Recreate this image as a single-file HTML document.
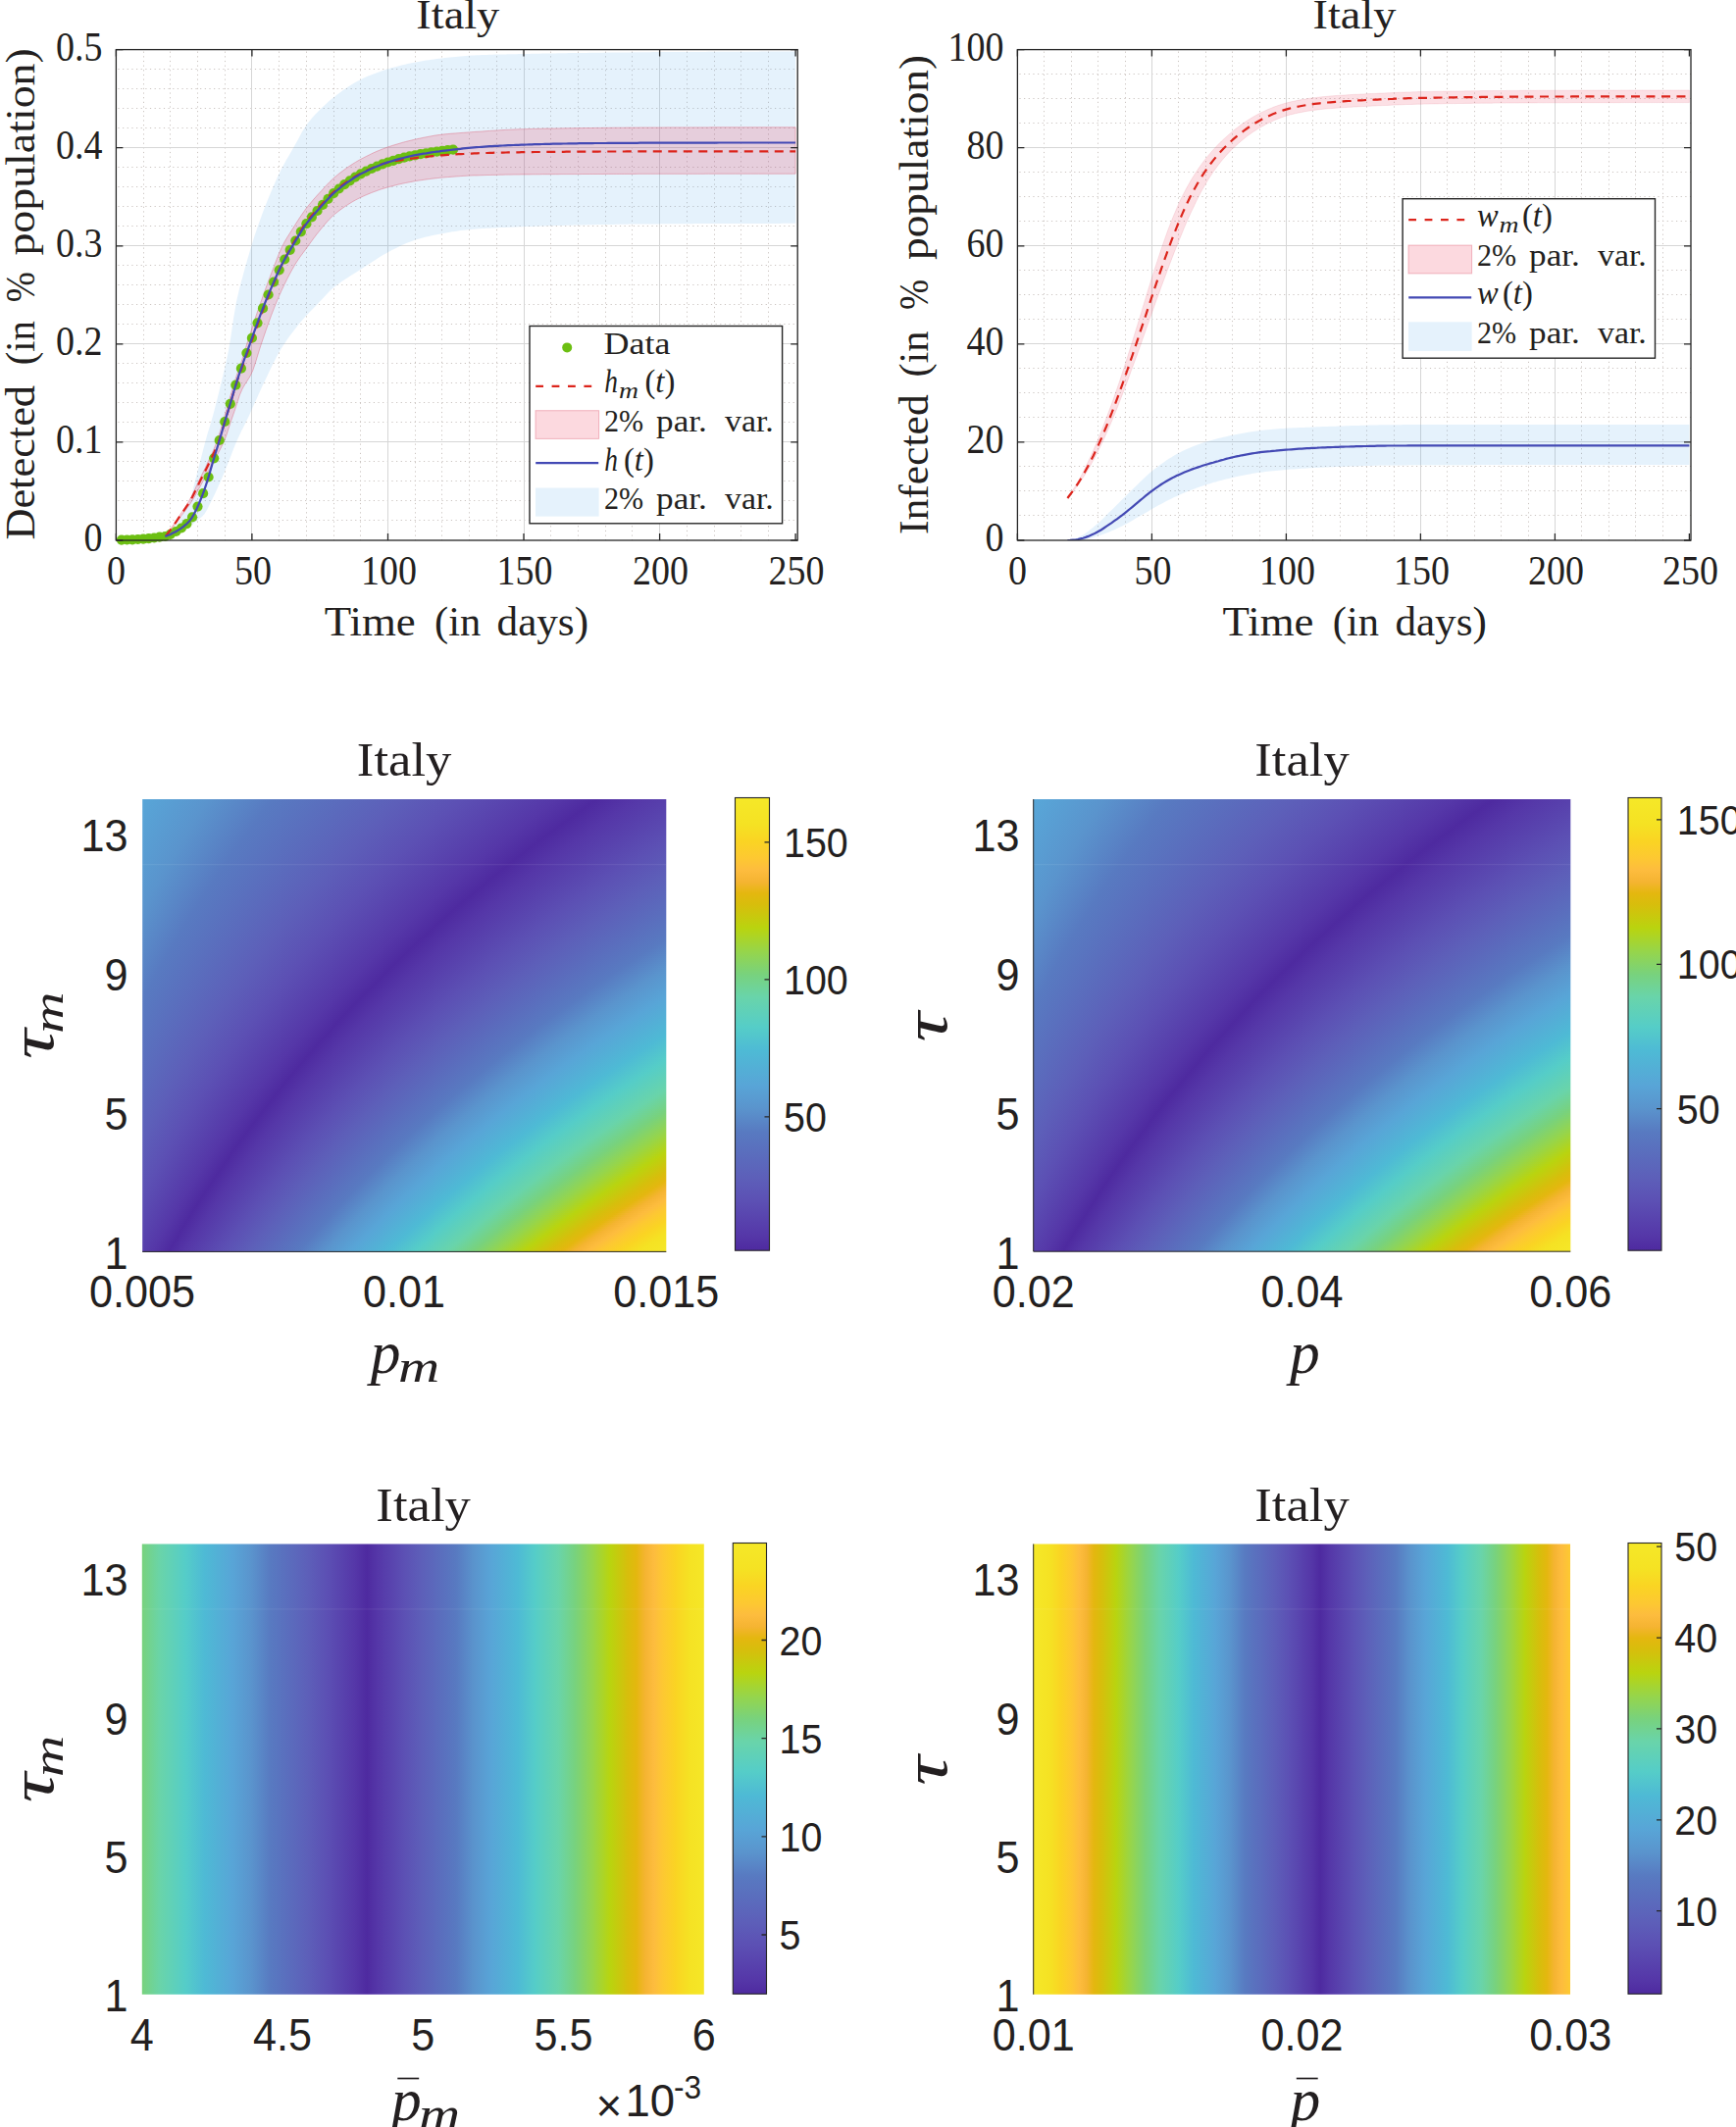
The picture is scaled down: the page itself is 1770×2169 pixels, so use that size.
<!DOCTYPE html>
<html><head><meta charset="utf-8"><title>Italy</title>
<style>
html,body{margin:0;padding:0;background:#fff}
svg{display:block}
.s{font-family:"Liberation Serif", "DejaVu Serif", serif;fill:#231f20}
.a{font-family:"Liberation Sans", "DejaVu Sans", sans-serif;fill:#231f20}
.mn{fill:none;stroke:#cbc4c0;stroke-width:1;stroke-dasharray:1.2 3.45}
.mj{fill:none;stroke:#d6d6d6;stroke-width:1}
.tk{fill:none;stroke:#262626;stroke-width:1.3}
.bx{fill:none;stroke:#262626;stroke-width:1.3}
.bb{fill:#4fa8ea;fill-opacity:.15;stroke:none}
.pb{fill:#ec2f4f;fill-opacity:.18;stroke:#d9465f;stroke-opacity:.35;stroke-width:1}
.bl{fill:none;stroke:#4349b4;stroke-width:2.2}
.rd{fill:none;stroke:#dc251c;stroke-width:2.2;stroke-dasharray:9 6.5}
.gd{fill:#6cbf12}
.lg{fill:#fff;stroke:#262626;stroke-width:1.4}
.cb{fill:none;stroke:#262626;stroke-width:1.1}
</style></head><body>
<svg width="1770" height="2169" viewBox="0 0 1770 2169">
<defs>
<linearGradient id="cm" gradientUnits="userSpaceOnUse" spreadMethod="reflect"><stop offset="0" stop-color="#4e2aa0"/><stop offset="0.032" stop-color="#5537a8"/><stop offset="0.109" stop-color="#5c50b4"/><stop offset="0.16" stop-color="#5d5fb9"/><stop offset="0.262" stop-color="#587ac1"/><stop offset="0.314" stop-color="#5a94cd"/><stop offset="0.365" stop-color="#58a5d7"/><stop offset="0.441" stop-color="#4ebad5"/><stop offset="0.493" stop-color="#55cdc8"/><stop offset="0.56" stop-color="#69d4aa"/><stop offset="0.61" stop-color="#78d27d"/><stop offset="0.66" stop-color="#96d54b"/><stop offset="0.712" stop-color="#b9d40f"/><stop offset="0.763" stop-color="#d7be0c"/><stop offset="0.789" stop-color="#e4b70f"/><stop offset="0.8145" stop-color="#f5b432"/><stop offset="0.84" stop-color="#fdbc3e"/><stop offset="0.866" stop-color="#fdc832"/><stop offset="0.904" stop-color="#fad423"/><stop offset="0.942" stop-color="#f5e223"/><stop offset="1" stop-color="#f5e828"/></linearGradient>
<linearGradient id="g2" href="#cm" x1="607.4" x2="1866.7"/>
<linearGradient id="g3" href="#cm" x1="604.6" x2="1858.9"/>
<linearGradient id="g4" href="#cm" x1="601.7" x2="1851.1"/>
<linearGradient id="g5" href="#cm" x1="598.8" x2="1843.3"/>
<linearGradient id="g6" href="#cm" x1="596.0" x2="1835.5"/>
<linearGradient id="g7" href="#cm" x1="593.2" x2="1827.8"/>
<linearGradient id="g8" href="#cm" x1="590.4" x2="1820.1"/>
<linearGradient id="g9" href="#cm" x1="587.6" x2="1812.5"/>
<linearGradient id="g10" href="#cm" x1="584.8" x2="1804.8"/>
<linearGradient id="g11" href="#cm" x1="582.0" x2="1797.3"/>
<linearGradient id="g12" href="#cm" x1="579.2" x2="1789.7"/>
<linearGradient id="g13" href="#cm" x1="576.4" x2="1782.1"/>
<linearGradient id="g14" href="#cm" x1="573.7" x2="1774.6"/>
<linearGradient id="g15" href="#cm" x1="570.9" x2="1767.2"/>
<linearGradient id="g16" href="#cm" x1="568.2" x2="1759.7"/>
<linearGradient id="g17" href="#cm" x1="565.5" x2="1752.3"/>
<linearGradient id="g18" href="#cm" x1="562.8" x2="1744.9"/>
<linearGradient id="g19" href="#cm" x1="560.1" x2="1737.6"/>
<linearGradient id="g20" href="#cm" x1="557.4" x2="1730.2"/>
<linearGradient id="g21" href="#cm" x1="554.7" x2="1722.9"/>
<linearGradient id="g22" href="#cm" x1="552.0" x2="1715.6"/>
<linearGradient id="g23" href="#cm" x1="549.4" x2="1708.4"/>
<linearGradient id="g24" href="#cm" x1="546.7" x2="1701.2"/>
<linearGradient id="g25" href="#cm" x1="544.1" x2="1694.0"/>
<linearGradient id="g26" href="#cm" x1="541.5" x2="1686.8"/>
<linearGradient id="g27" href="#cm" x1="538.9" x2="1679.7"/>
<linearGradient id="g28" href="#cm" x1="536.3" x2="1672.6"/>
<linearGradient id="g29" href="#cm" x1="533.7" x2="1665.5"/>
<linearGradient id="g30" href="#cm" x1="531.1" x2="1658.5"/>
<linearGradient id="g31" href="#cm" x1="528.5" x2="1651.5"/>
<linearGradient id="g32" href="#cm" x1="525.9" x2="1644.5"/>
<linearGradient id="g33" href="#cm" x1="523.4" x2="1637.5"/>
<linearGradient id="g34" href="#cm" x1="520.8" x2="1630.6"/>
<linearGradient id="g35" href="#cm" x1="518.3" x2="1623.7"/>
<linearGradient id="g36" href="#cm" x1="515.8" x2="1616.8"/>
<linearGradient id="g37" href="#cm" x1="513.3" x2="1609.9"/>
<linearGradient id="g38" href="#cm" x1="510.8" x2="1603.1"/>
<linearGradient id="g39" href="#cm" x1="508.3" x2="1596.3"/>
<linearGradient id="g40" href="#cm" x1="505.8" x2="1589.5"/>
<linearGradient id="g41" href="#cm" x1="503.3" x2="1582.8"/>
<linearGradient id="g42" href="#cm" x1="500.9" x2="1576.1"/>
<linearGradient id="g43" href="#cm" x1="498.4" x2="1569.4"/>
<linearGradient id="g44" href="#cm" x1="495.9" x2="1562.7"/>
<linearGradient id="g45" href="#cm" x1="493.5" x2="1556.1"/>
<linearGradient id="g46" href="#cm" x1="491.1" x2="1549.4"/>
<linearGradient id="g47" href="#cm" x1="488.7" x2="1542.9"/>
<linearGradient id="g48" href="#cm" x1="486.3" x2="1536.3"/>
<linearGradient id="g49" href="#cm" x1="483.9" x2="1529.8"/>
<linearGradient id="g50" href="#cm" x1="481.5" x2="1523.2"/>
<linearGradient id="g51" href="#cm" x1="479.1" x2="1516.8"/>
<linearGradient id="g52" href="#cm" x1="476.7" x2="1510.3"/>
<linearGradient id="g53" href="#cm" x1="474.4" x2="1503.9"/>
<linearGradient id="g54" href="#cm" x1="472.0" x2="1497.5"/>
<linearGradient id="g55" href="#cm" x1="469.7" x2="1491.1"/>
<linearGradient id="g56" href="#cm" x1="467.3" x2="1484.7"/>
<linearGradient id="g57" href="#cm" x1="465.0" x2="1478.4"/>
<linearGradient id="g58" href="#cm" x1="462.7" x2="1472.1"/>
<linearGradient id="g59" href="#cm" x1="460.4" x2="1465.8"/>
<linearGradient id="g60" href="#cm" x1="458.1" x2="1459.5"/>
<linearGradient id="g61" href="#cm" x1="455.8" x2="1453.3"/>
<linearGradient id="g62" href="#cm" x1="453.5" x2="1447.1"/>
<linearGradient id="g63" href="#cm" x1="451.3" x2="1440.9"/>
<linearGradient id="g64" href="#cm" x1="449.0" x2="1434.7"/>
<linearGradient id="g65" href="#cm" x1="446.8" x2="1428.6"/>
<linearGradient id="g66" href="#cm" x1="444.5" x2="1422.5"/>
<linearGradient id="g67" href="#cm" x1="442.3" x2="1416.4"/>
<linearGradient id="g68" href="#cm" x1="440.1" x2="1410.3"/>
<linearGradient id="g69" href="#cm" x1="437.9" x2="1404.3"/>
<linearGradient id="g70" href="#cm" x1="435.6" x2="1398.3"/>
<linearGradient id="g71" href="#cm" x1="433.5" x2="1392.3"/>
<linearGradient id="g72" href="#cm" x1="431.3" x2="1386.3"/>
<linearGradient id="g73" href="#cm" x1="429.1" x2="1380.4"/>
<linearGradient id="g74" href="#cm" x1="426.9" x2="1374.5"/>
<linearGradient id="g75" href="#cm" x1="424.7" x2="1368.6"/>
<linearGradient id="g76" href="#cm" x1="422.6" x2="1362.7"/>
<linearGradient id="g77" href="#cm" x1="420.4" x2="1356.8"/>
<linearGradient id="g78" href="#cm" x1="418.3" x2="1351.0"/>
<linearGradient id="g79" href="#cm" x1="416.2" x2="1345.2"/>
<linearGradient id="g80" href="#cm" x1="414.1" x2="1339.4"/>
<linearGradient id="g81" href="#cm" x1="411.9" x2="1333.6"/>
<linearGradient id="g82" href="#cm" x1="409.8" x2="1327.9"/>
<linearGradient id="g83" href="#cm" x1="407.7" x2="1322.2"/>
<linearGradient id="g84" href="#cm" x1="405.7" x2="1316.5"/>
<linearGradient id="g85" href="#cm" x1="403.6" x2="1310.8"/>
<linearGradient id="g86" href="#cm" x1="401.5" x2="1305.2"/>
<linearGradient id="g87" href="#cm" x1="399.4" x2="1299.6"/>
<linearGradient id="g88" href="#cm" x1="397.4" x2="1294.0"/>
<linearGradient id="g89" href="#cm" x1="395.3" x2="1288.4"/>
<linearGradient id="g90" href="#cm" x1="393.3" x2="1282.8"/>
<linearGradient id="g91" href="#cm" x1="391.3" x2="1277.3"/>
<linearGradient id="g92" href="#cm" x1="389.2" x2="1271.8"/>
<linearGradient id="g93" href="#cm" x1="387.2" x2="1266.3"/>
<linearGradient id="g94" href="#cm" x1="385.2" x2="1260.8"/>
<linearGradient id="g95" href="#cm" x1="383.2" x2="1255.3"/>
<linearGradient id="g96" href="#cm" x1="381.2" x2="1249.9"/>
<linearGradient id="g97" href="#cm" x1="379.3" x2="1244.5"/>
<linearGradient id="g98" href="#cm" x1="377.3" x2="1239.1"/>
<linearGradient id="g99" href="#cm" x1="375.3" x2="1233.7"/>
<linearGradient id="g100" href="#cm" x1="373.3" x2="1228.4"/>
<linearGradient id="g101" href="#cm" x1="371.4" x2="1223.1"/>
<linearGradient id="g102" href="#cm" x1="369.5" x2="1217.8"/>
<linearGradient id="g103" href="#cm" x1="367.5" x2="1212.5"/>
<linearGradient id="g104" href="#cm" x1="365.6" x2="1207.2"/>
<linearGradient id="g105" href="#cm" x1="363.7" x2="1202.0"/>
<linearGradient id="g106" href="#cm" x1="361.7" x2="1196.8"/>
<linearGradient id="g107" href="#cm" x1="359.8" x2="1191.6"/>
<linearGradient id="g108" href="#cm" x1="357.9" x2="1186.4"/>
<linearGradient id="g109" href="#cm" x1="356.1" x2="1181.2"/>
<linearGradient id="g110" href="#cm" x1="354.2" x2="1176.1"/>
<linearGradient id="g111" href="#cm" x1="352.3" x2="1171.0"/>
<linearGradient id="g112" href="#cm" x1="350.4" x2="1165.9"/>
<linearGradient id="g113" href="#cm" x1="348.6" x2="1160.8"/>
<linearGradient id="g114" href="#cm" x1="346.7" x2="1155.8"/>
<linearGradient id="g115" href="#cm" x1="344.9" x2="1150.7"/>
<linearGradient id="g116" href="#cm" x1="343.0" x2="1145.7"/>
<linearGradient id="g117" href="#cm" x1="341.2" x2="1140.7"/>
<linearGradient id="g118" href="#cm" x1="339.4" x2="1135.7"/>
<linearGradient id="g119" href="#cm" x1="337.5" x2="1130.8"/>
<linearGradient id="g120" href="#cm" x1="335.7" x2="1125.8"/>
<linearGradient id="g121" href="#cm" x1="333.9" x2="1120.9"/>
<linearGradient id="g122" href="#cm" x1="332.1" x2="1116.0"/>
<linearGradient id="g123" href="#cm" x1="330.3" x2="1111.1"/>
<linearGradient id="g124" href="#cm" x1="328.6" x2="1106.3"/>
<linearGradient id="g125" href="#cm" x1="326.8" x2="1101.4"/>
<linearGradient id="g126" href="#cm" x1="325.0" x2="1096.6"/>
<linearGradient id="g127" href="#cm" x1="323.3" x2="1091.8"/>
<linearGradient id="g128" href="#cm" x1="321.5" x2="1087.0"/>
<linearGradient id="g129" href="#cm" x1="319.7" x2="1082.3"/>
<linearGradient id="g130" href="#cm" x1="318.0" x2="1077.5"/>
<linearGradient id="g131" href="#cm" x1="316.3" x2="1072.8"/>
<linearGradient id="g132" href="#cm" x1="314.5" x2="1068.1"/>
<linearGradient id="g133" href="#cm" x1="312.8" x2="1063.4"/>
<linearGradient id="g134" href="#cm" x1="311.1" x2="1058.7"/>
<linearGradient id="g135" href="#cm" x1="309.4" x2="1054.1"/>
<linearGradient id="g136" href="#cm" x1="307.7" x2="1049.4"/>
<linearGradient id="g137" href="#cm" x1="306.0" x2="1044.8"/>
<linearGradient id="g138" href="#cm" x1="304.3" x2="1040.2"/>
<linearGradient id="g139" href="#cm" x1="302.6" x2="1035.6"/>
<linearGradient id="g140" href="#cm" x1="301.0" x2="1031.1"/>
<linearGradient id="g141" href="#cm" x1="299.3" x2="1026.5"/>
<linearGradient id="g142" href="#cm" x1="297.6" x2="1022.0"/>
<linearGradient id="g143" href="#cm" x1="296.0" x2="1017.5"/>
<linearGradient id="g144" href="#cm" x1="294.3" x2="1013.0"/>
<linearGradient id="g145" href="#cm" x1="292.7" x2="1008.5"/>
<linearGradient id="g146" href="#cm" x1="291.1" x2="1004.1"/>
<linearGradient id="g147" href="#cm" x1="289.4" x2="999.6"/>
<linearGradient id="g148" href="#cm" x1="287.8" x2="995.2"/>
<linearGradient id="g149" href="#cm" x1="286.2" x2="990.8"/>
<linearGradient id="g150" href="#cm" x1="284.6" x2="986.4"/>
<linearGradient id="g151" href="#cm" x1="283.0" x2="982.0"/>
<linearGradient id="g152" href="#cm" x1="281.4" x2="977.7"/>
<linearGradient id="g153" href="#cm" x1="279.8" x2="973.3"/>
<linearGradient id="g154" href="#cm" x1="278.2" x2="969.0"/>
<linearGradient id="g155" href="#cm" x1="276.6" x2="964.7"/>
<linearGradient id="g156" href="#cm" x1="275.1" x2="960.4"/>
<linearGradient id="g157" href="#cm" x1="273.5" x2="956.2"/>
<linearGradient id="g158" href="#cm" x1="272.0" x2="951.9"/>
<linearGradient id="g159" href="#cm" x1="270.4" x2="947.7"/>
<linearGradient id="g160" href="#cm" x1="268.9" x2="943.5"/>
<linearGradient id="g161" href="#cm" x1="267.3" x2="939.3"/>
<linearGradient id="g162" href="#cm" x1="265.8" x2="935.1"/>
<linearGradient id="g163" href="#cm" x1="264.3" x2="930.9"/>
<linearGradient id="g164" href="#cm" x1="262.7" x2="926.8"/>
<linearGradient id="g165" href="#cm" x1="261.2" x2="922.6"/>
<linearGradient id="g166" href="#cm" x1="259.7" x2="918.5"/>
<linearGradient id="g167" href="#cm" x1="258.2" x2="914.4"/>
<linearGradient id="g168" href="#cm" x1="256.7" x2="910.3"/>
<linearGradient id="g169" href="#cm" x1="255.2" x2="906.3"/>
<linearGradient id="g170" href="#cm" x1="253.7" x2="902.2"/>
<linearGradient id="g171" href="#cm" x1="252.2" x2="898.2"/>
<linearGradient id="g172" href="#cm" x1="250.8" x2="894.2"/>
<linearGradient id="g173" href="#cm" x1="249.3" x2="890.2"/>
<linearGradient id="g174" href="#cm" x1="247.8" x2="886.2"/>
<linearGradient id="g175" href="#cm" x1="246.4" x2="882.2"/>
<linearGradient id="g176" href="#cm" x1="244.9" x2="878.2"/>
<linearGradient id="g177" href="#cm" x1="243.5" x2="874.3"/>
<linearGradient id="g178" href="#cm" x1="242.0" x2="870.4"/>
<linearGradient id="g179" href="#cm" x1="240.6" x2="866.5"/>
<linearGradient id="g180" href="#cm" x1="239.2" x2="862.6"/>
<linearGradient id="g181" href="#cm" x1="237.8" x2="858.7"/>
<linearGradient id="g182" href="#cm" x1="236.3" x2="854.8"/>
<linearGradient id="g183" href="#cm" x1="234.9" x2="851.0"/>
<linearGradient id="g184" href="#cm" x1="233.5" x2="847.1"/>
<linearGradient id="g185" href="#cm" x1="232.1" x2="843.3"/>
<linearGradient id="g186" href="#cm" x1="230.7" x2="839.5"/>
<linearGradient id="g187" href="#cm" x1="229.3" x2="835.7"/>
<linearGradient id="g188" href="#cm" x1="227.9" x2="831.9"/>
<linearGradient id="g189" href="#cm" x1="226.6" x2="828.2"/>
<linearGradient id="g190" href="#cm" x1="225.2" x2="824.4"/>
<linearGradient id="g191" href="#cm" x1="223.8" x2="820.7"/>
<linearGradient id="g192" href="#cm" x1="222.5" x2="817.0"/>
<linearGradient id="g193" href="#cm" x1="221.1" x2="813.3"/>
<linearGradient id="g194" href="#cm" x1="219.8" x2="809.6"/>
<linearGradient id="g195" href="#cm" x1="218.4" x2="805.9"/>
<linearGradient id="g196" href="#cm" x1="217.1" x2="802.3"/>
<linearGradient id="g197" href="#cm" x1="215.7" x2="798.6"/>
<linearGradient id="g198" href="#cm" x1="214.4" x2="795.0"/>
<linearGradient id="g199" href="#cm" x1="213.1" x2="791.4"/>
<linearGradient id="g200" href="#cm" x1="211.7" x2="787.8"/>
<linearGradient id="g201" href="#cm" x1="210.4" x2="784.2"/>
<linearGradient id="g202" href="#cm" x1="209.1" x2="780.6"/>
<linearGradient id="g203" href="#cm" x1="207.8" x2="777.1"/>
<linearGradient id="g204" href="#cm" x1="206.5" x2="773.5"/>
<linearGradient id="g205" href="#cm" x1="205.2" x2="770.0"/>
<linearGradient id="g206" href="#cm" x1="203.9" x2="766.5"/>
<linearGradient id="g207" href="#cm" x1="202.7" x2="763.0"/>
<linearGradient id="g208" href="#cm" x1="201.4" x2="759.5"/>
<linearGradient id="g209" href="#cm" x1="200.1" x2="756.0"/>
<linearGradient id="g210" href="#cm" x1="198.8" x2="752.5"/>
<linearGradient id="g211" href="#cm" x1="197.6" x2="749.1"/>
<linearGradient id="g212" href="#cm" x1="196.3" x2="745.7"/>
<linearGradient id="g213" href="#cm" x1="195.1" x2="742.2"/>
<linearGradient id="g214" href="#cm" x1="193.8" x2="738.8"/>
<linearGradient id="g215" href="#cm" x1="192.6" x2="735.4"/>
<linearGradient id="g216" href="#cm" x1="191.3" x2="732.1"/>
<linearGradient id="g217" href="#cm" x1="190.1" x2="728.7"/>
<linearGradient id="g218" href="#cm" x1="188.9" x2="725.3"/>
<linearGradient id="g219" href="#cm" x1="187.6" x2="722.0"/>
<linearGradient id="g220" href="#cm" x1="186.4" x2="718.7"/>
<linearGradient id="g221" href="#cm" x1="185.2" x2="715.4"/>
<linearGradient id="g222" href="#cm" x1="184.0" x2="712.1"/>
<linearGradient id="g223" href="#cm" x1="182.8" x2="708.8"/>
<linearGradient id="g224" href="#cm" x1="181.6" x2="705.5"/>
<linearGradient id="g225" href="#cm" x1="180.4" x2="702.2"/>
<linearGradient id="g226" href="#cm" x1="179.2" x2="699.0"/>
<linearGradient id="g227" href="#cm" x1="178.0" x2="695.8"/>
<linearGradient id="g228" href="#cm" x1="176.8" x2="692.5"/>
<linearGradient id="g229" href="#cm" x1="175.6" x2="689.3"/>
<linearGradient id="g230" href="#cm" x1="174.5" x2="686.1"/>
<linearGradient id="g231" href="#cm" x1="173.3" x2="682.9"/>
<linearGradient id="g232" href="#cm" x1="172.1" x2="679.8"/>
<linearGradient id="g233" href="#cm" x1="0.0" x2="0.0" y1="1275.2" y2="813.5"/>
<linearGradient id="g235" href="#cm" x1="1521.8" x2="2785.1"/>
<linearGradient id="g236" href="#cm" x1="1518.9" x2="2777.3"/>
<linearGradient id="g237" href="#cm" x1="1516.1" x2="2769.6"/>
<linearGradient id="g238" href="#cm" x1="1513.2" x2="2761.9"/>
<linearGradient id="g239" href="#cm" x1="1510.4" x2="2754.2"/>
<linearGradient id="g240" href="#cm" x1="1507.6" x2="2746.5"/>
<linearGradient id="g241" href="#cm" x1="1504.7" x2="2738.9"/>
<linearGradient id="g242" href="#cm" x1="1501.9" x2="2731.3"/>
<linearGradient id="g243" href="#cm" x1="1499.1" x2="2723.8"/>
<linearGradient id="g244" href="#cm" x1="1496.4" x2="2716.3"/>
<linearGradient id="g245" href="#cm" x1="1493.6" x2="2708.8"/>
<linearGradient id="g246" href="#cm" x1="1490.8" x2="2701.3"/>
<linearGradient id="g247" href="#cm" x1="1488.1" x2="2693.9"/>
<linearGradient id="g248" href="#cm" x1="1485.3" x2="2686.5"/>
<linearGradient id="g249" href="#cm" x1="1482.6" x2="2679.1"/>
<linearGradient id="g250" href="#cm" x1="1479.9" x2="2671.7"/>
<linearGradient id="g251" href="#cm" x1="1477.2" x2="2664.4"/>
<linearGradient id="g252" href="#cm" x1="1474.5" x2="2657.1"/>
<linearGradient id="g253" href="#cm" x1="1471.8" x2="2649.8"/>
<linearGradient id="g254" href="#cm" x1="1469.1" x2="2642.6"/>
<linearGradient id="g255" href="#cm" x1="1466.4" x2="2635.4"/>
<linearGradient id="g256" href="#cm" x1="1463.8" x2="2628.2"/>
<linearGradient id="g257" href="#cm" x1="1461.1" x2="2621.1"/>
<linearGradient id="g258" href="#cm" x1="1458.5" x2="2613.9"/>
<linearGradient id="g259" href="#cm" x1="1455.9" x2="2606.8"/>
<linearGradient id="g260" href="#cm" x1="1453.2" x2="2599.8"/>
<linearGradient id="g261" href="#cm" x1="1450.6" x2="2592.7"/>
<linearGradient id="g262" href="#cm" x1="1448.0" x2="2585.7"/>
<linearGradient id="g263" href="#cm" x1="1445.5" x2="2578.7"/>
<linearGradient id="g264" href="#cm" x1="1442.9" x2="2571.7"/>
<linearGradient id="g265" href="#cm" x1="1440.3" x2="2564.8"/>
<linearGradient id="g266" href="#cm" x1="1437.8" x2="2557.9"/>
<linearGradient id="g267" href="#cm" x1="1435.2" x2="2551.0"/>
<linearGradient id="g268" href="#cm" x1="1432.7" x2="2544.2"/>
<linearGradient id="g269" href="#cm" x1="1430.1" x2="2537.3"/>
<linearGradient id="g270" href="#cm" x1="1427.6" x2="2530.5"/>
<linearGradient id="g271" href="#cm" x1="1425.1" x2="2523.7"/>
<linearGradient id="g272" href="#cm" x1="1422.6" x2="2517.0"/>
<linearGradient id="g273" href="#cm" x1="1420.1" x2="2510.3"/>
<linearGradient id="g274" href="#cm" x1="1417.7" x2="2503.6"/>
<linearGradient id="g275" href="#cm" x1="1415.2" x2="2496.9"/>
<linearGradient id="g276" href="#cm" x1="1412.7" x2="2490.3"/>
<linearGradient id="g277" href="#cm" x1="1410.3" x2="2483.6"/>
<linearGradient id="g278" href="#cm" x1="1407.8" x2="2477.0"/>
<linearGradient id="g279" href="#cm" x1="1405.4" x2="2470.5"/>
<linearGradient id="g280" href="#cm" x1="1403.0" x2="2463.9"/>
<linearGradient id="g281" href="#cm" x1="1400.6" x2="2457.4"/>
<linearGradient id="g282" href="#cm" x1="1398.2" x2="2450.9"/>
<linearGradient id="g283" href="#cm" x1="1395.8" x2="2444.4"/>
<linearGradient id="g284" href="#cm" x1="1393.4" x2="2438.0"/>
<linearGradient id="g285" href="#cm" x1="1391.0" x2="2431.6"/>
<linearGradient id="g286" href="#cm" x1="1388.7" x2="2425.2"/>
<linearGradient id="g287" href="#cm" x1="1386.3" x2="2418.8"/>
<linearGradient id="g288" href="#cm" x1="1383.9" x2="2412.5"/>
<linearGradient id="g289" href="#cm" x1="1381.6" x2="2406.2"/>
<linearGradient id="g290" href="#cm" x1="1379.3" x2="2399.9"/>
<linearGradient id="g291" href="#cm" x1="1377.0" x2="2393.6"/>
<linearGradient id="g292" href="#cm" x1="1374.6" x2="2387.3"/>
<linearGradient id="g293" href="#cm" x1="1372.3" x2="2381.1"/>
<linearGradient id="g294" href="#cm" x1="1370.1" x2="2374.9"/>
<linearGradient id="g295" href="#cm" x1="1367.8" x2="2368.7"/>
<linearGradient id="g296" href="#cm" x1="1365.5" x2="2362.6"/>
<linearGradient id="g297" href="#cm" x1="1363.2" x2="2356.5"/>
<linearGradient id="g298" href="#cm" x1="1361.0" x2="2350.4"/>
<linearGradient id="g299" href="#cm" x1="1358.7" x2="2344.3"/>
<linearGradient id="g300" href="#cm" x1="1356.5" x2="2338.2"/>
<linearGradient id="g301" href="#cm" x1="1354.2" x2="2332.2"/>
<linearGradient id="g302" href="#cm" x1="1352.0" x2="2326.2"/>
<linearGradient id="g303" href="#cm" x1="1349.8" x2="2320.2"/>
<linearGradient id="g304" href="#cm" x1="1347.6" x2="2314.2"/>
<linearGradient id="g305" href="#cm" x1="1345.4" x2="2308.3"/>
<linearGradient id="g306" href="#cm" x1="1343.2" x2="2302.4"/>
<linearGradient id="g307" href="#cm" x1="1341.0" x2="2296.5"/>
<linearGradient id="g308" href="#cm" x1="1338.9" x2="2290.6"/>
<linearGradient id="g309" href="#cm" x1="1336.7" x2="2284.8"/>
<linearGradient id="g310" href="#cm" x1="1334.5" x2="2278.9"/>
<linearGradient id="g311" href="#cm" x1="1332.4" x2="2273.1"/>
<linearGradient id="g312" href="#cm" x1="1330.3" x2="2267.4"/>
<linearGradient id="g313" href="#cm" x1="1328.1" x2="2261.6"/>
<linearGradient id="g314" href="#cm" x1="1326.0" x2="2255.9"/>
<linearGradient id="g315" href="#cm" x1="1323.9" x2="2250.2"/>
<linearGradient id="g316" href="#cm" x1="1321.8" x2="2244.5"/>
<linearGradient id="g317" href="#cm" x1="1319.7" x2="2238.8"/>
<linearGradient id="g318" href="#cm" x1="1317.6" x2="2233.1"/>
<linearGradient id="g319" href="#cm" x1="1315.5" x2="2227.5"/>
<linearGradient id="g320" href="#cm" x1="1313.4" x2="2221.9"/>
<linearGradient id="g321" href="#cm" x1="1311.4" x2="2216.3"/>
<linearGradient id="g322" href="#cm" x1="1309.3" x2="2210.8"/>
<linearGradient id="g323" href="#cm" x1="1307.3" x2="2205.2"/>
<linearGradient id="g324" href="#cm" x1="1305.2" x2="2199.7"/>
<linearGradient id="g325" href="#cm" x1="1303.2" x2="2194.2"/>
<linearGradient id="g326" href="#cm" x1="1301.2" x2="2188.7"/>
<linearGradient id="g327" href="#cm" x1="1299.2" x2="2183.3"/>
<linearGradient id="g328" href="#cm" x1="1297.1" x2="2177.9"/>
<linearGradient id="g329" href="#cm" x1="1295.1" x2="2172.4"/>
<linearGradient id="g330" href="#cm" x1="1293.1" x2="2167.1"/>
<linearGradient id="g331" href="#cm" x1="1291.2" x2="2161.7"/>
<linearGradient id="g332" href="#cm" x1="1289.2" x2="2156.3"/>
<linearGradient id="g333" href="#cm" x1="1287.2" x2="2151.0"/>
<linearGradient id="g334" href="#cm" x1="1285.2" x2="2145.7"/>
<linearGradient id="g335" href="#cm" x1="1283.3" x2="2140.4"/>
<linearGradient id="g336" href="#cm" x1="1281.3" x2="2135.1"/>
<linearGradient id="g337" href="#cm" x1="1279.4" x2="2129.9"/>
<linearGradient id="g338" href="#cm" x1="1277.5" x2="2124.7"/>
<linearGradient id="g339" href="#cm" x1="1275.5" x2="2119.5"/>
<linearGradient id="g340" href="#cm" x1="1273.6" x2="2114.3"/>
<linearGradient id="g341" href="#cm" x1="1271.7" x2="2109.1"/>
<linearGradient id="g342" href="#cm" x1="1269.8" x2="2104.0"/>
<linearGradient id="g343" href="#cm" x1="1267.9" x2="2098.8"/>
<linearGradient id="g344" href="#cm" x1="1266.0" x2="2093.7"/>
<linearGradient id="g345" href="#cm" x1="1264.1" x2="2088.7"/>
<linearGradient id="g346" href="#cm" x1="1262.3" x2="2083.6"/>
<linearGradient id="g347" href="#cm" x1="1260.4" x2="2078.5"/>
<linearGradient id="g348" href="#cm" x1="1258.5" x2="2073.5"/>
<linearGradient id="g349" href="#cm" x1="1256.7" x2="2068.5"/>
<linearGradient id="g350" href="#cm" x1="1254.8" x2="2063.5"/>
<linearGradient id="g351" href="#cm" x1="1253.0" x2="2058.6"/>
<linearGradient id="g352" href="#cm" x1="1251.2" x2="2053.6"/>
<linearGradient id="g353" href="#cm" x1="1249.3" x2="2048.7"/>
<linearGradient id="g354" href="#cm" x1="1247.5" x2="2043.8"/>
<linearGradient id="g355" href="#cm" x1="1245.7" x2="2038.9"/>
<linearGradient id="g356" href="#cm" x1="1243.9" x2="2034.0"/>
<linearGradient id="g357" href="#cm" x1="1242.1" x2="2029.1"/>
<linearGradient id="g358" href="#cm" x1="1240.3" x2="2024.3"/>
<linearGradient id="g359" href="#cm" x1="1238.5" x2="2019.5"/>
<linearGradient id="g360" href="#cm" x1="1236.8" x2="2014.7"/>
<linearGradient id="g361" href="#cm" x1="1235.0" x2="2009.9"/>
<linearGradient id="g362" href="#cm" x1="1233.2" x2="2005.1"/>
<linearGradient id="g363" href="#cm" x1="1231.5" x2="2000.4"/>
<linearGradient id="g364" href="#cm" x1="1229.7" x2="1995.7"/>
<linearGradient id="g365" href="#cm" x1="1228.0" x2="1991.0"/>
<linearGradient id="g366" href="#cm" x1="1226.3" x2="1986.3"/>
<linearGradient id="g367" href="#cm" x1="1224.5" x2="1981.6"/>
<linearGradient id="g368" href="#cm" x1="1222.8" x2="1977.0"/>
<linearGradient id="g369" href="#cm" x1="1221.1" x2="1972.3"/>
<linearGradient id="g370" href="#cm" x1="1219.4" x2="1967.7"/>
<linearGradient id="g371" href="#cm" x1="1217.7" x2="1963.1"/>
<linearGradient id="g372" href="#cm" x1="1216.0" x2="1958.5"/>
<linearGradient id="g373" href="#cm" x1="1214.3" x2="1954.0"/>
<linearGradient id="g374" href="#cm" x1="1212.6" x2="1949.4"/>
<linearGradient id="g375" href="#cm" x1="1210.9" x2="1944.9"/>
<linearGradient id="g376" href="#cm" x1="1209.3" x2="1940.4"/>
<linearGradient id="g377" href="#cm" x1="1207.6" x2="1935.9"/>
<linearGradient id="g378" href="#cm" x1="1206.0" x2="1931.4"/>
<linearGradient id="g379" href="#cm" x1="1204.3" x2="1927.0"/>
<linearGradient id="g380" href="#cm" x1="1202.7" x2="1922.5"/>
<linearGradient id="g381" href="#cm" x1="1201.0" x2="1918.1"/>
<linearGradient id="g382" href="#cm" x1="1199.4" x2="1913.7"/>
<linearGradient id="g383" href="#cm" x1="1197.8" x2="1909.3"/>
<linearGradient id="g384" href="#cm" x1="1196.2" x2="1904.9"/>
<linearGradient id="g385" href="#cm" x1="1194.5" x2="1900.6"/>
<linearGradient id="g386" href="#cm" x1="1192.9" x2="1896.2"/>
<linearGradient id="g387" href="#cm" x1="1191.3" x2="1891.9"/>
<linearGradient id="g388" href="#cm" x1="1189.8" x2="1887.6"/>
<linearGradient id="g389" href="#cm" x1="1188.2" x2="1883.3"/>
<linearGradient id="g390" href="#cm" x1="1186.6" x2="1879.1"/>
<linearGradient id="g391" href="#cm" x1="1185.0" x2="1874.8"/>
<linearGradient id="g392" href="#cm" x1="1183.4" x2="1870.6"/>
<linearGradient id="g393" href="#cm" x1="1181.9" x2="1866.3"/>
<linearGradient id="g394" href="#cm" x1="1180.3" x2="1862.1"/>
<linearGradient id="g395" href="#cm" x1="1178.8" x2="1857.9"/>
<linearGradient id="g396" href="#cm" x1="1177.2" x2="1853.8"/>
<linearGradient id="g397" href="#cm" x1="1175.7" x2="1849.6"/>
<linearGradient id="g398" href="#cm" x1="1174.2" x2="1845.5"/>
<linearGradient id="g399" href="#cm" x1="1172.6" x2="1841.3"/>
<linearGradient id="g400" href="#cm" x1="1171.1" x2="1837.2"/>
<linearGradient id="g401" href="#cm" x1="1169.6" x2="1833.1"/>
<linearGradient id="g402" href="#cm" x1="1168.1" x2="1829.1"/>
<linearGradient id="g403" href="#cm" x1="1166.6" x2="1825.0"/>
<linearGradient id="g404" href="#cm" x1="1165.1" x2="1821.0"/>
<linearGradient id="g405" href="#cm" x1="1163.6" x2="1816.9"/>
<linearGradient id="g406" href="#cm" x1="1162.1" x2="1812.9"/>
<linearGradient id="g407" href="#cm" x1="1160.6" x2="1808.9"/>
<linearGradient id="g408" href="#cm" x1="1159.2" x2="1804.9"/>
<linearGradient id="g409" href="#cm" x1="1157.7" x2="1801.0"/>
<linearGradient id="g410" href="#cm" x1="1156.2" x2="1797.0"/>
<linearGradient id="g411" href="#cm" x1="1154.8" x2="1793.1"/>
<linearGradient id="g412" href="#cm" x1="1153.3" x2="1789.2"/>
<linearGradient id="g413" href="#cm" x1="1151.9" x2="1785.2"/>
<linearGradient id="g414" href="#cm" x1="1150.4" x2="1781.4"/>
<linearGradient id="g415" href="#cm" x1="1149.0" x2="1777.5"/>
<linearGradient id="g416" href="#cm" x1="1147.6" x2="1773.6"/>
<linearGradient id="g417" href="#cm" x1="1146.2" x2="1769.8"/>
<linearGradient id="g418" href="#cm" x1="1144.7" x2="1765.9"/>
<linearGradient id="g419" href="#cm" x1="1143.3" x2="1762.1"/>
<linearGradient id="g420" href="#cm" x1="1141.9" x2="1758.3"/>
<linearGradient id="g421" href="#cm" x1="1140.5" x2="1754.5"/>
<linearGradient id="g422" href="#cm" x1="1139.1" x2="1750.8"/>
<linearGradient id="g423" href="#cm" x1="1137.7" x2="1747.0"/>
<linearGradient id="g424" href="#cm" x1="1136.3" x2="1743.3"/>
<linearGradient id="g425" href="#cm" x1="1135.0" x2="1739.5"/>
<linearGradient id="g426" href="#cm" x1="1133.6" x2="1735.8"/>
<linearGradient id="g427" href="#cm" x1="1132.2" x2="1732.1"/>
<linearGradient id="g428" href="#cm" x1="1130.9" x2="1728.4"/>
<linearGradient id="g429" href="#cm" x1="1129.5" x2="1724.8"/>
<linearGradient id="g430" href="#cm" x1="1128.1" x2="1721.1"/>
<linearGradient id="g431" href="#cm" x1="1126.8" x2="1717.5"/>
<linearGradient id="g432" href="#cm" x1="1125.5" x2="1713.8"/>
<linearGradient id="g433" href="#cm" x1="1124.1" x2="1710.2"/>
<linearGradient id="g434" href="#cm" x1="1122.8" x2="1706.6"/>
<linearGradient id="g435" href="#cm" x1="1121.5" x2="1703.0"/>
<linearGradient id="g436" href="#cm" x1="1120.1" x2="1699.4"/>
<linearGradient id="g437" href="#cm" x1="1118.8" x2="1695.9"/>
<linearGradient id="g438" href="#cm" x1="1117.5" x2="1692.3"/>
<linearGradient id="g439" href="#cm" x1="1116.2" x2="1688.8"/>
<linearGradient id="g440" href="#cm" x1="1114.9" x2="1685.3"/>
<linearGradient id="g441" href="#cm" x1="1113.6" x2="1681.8"/>
<linearGradient id="g442" href="#cm" x1="1112.3" x2="1678.3"/>
<linearGradient id="g443" href="#cm" x1="1111.0" x2="1674.8"/>
<linearGradient id="g444" href="#cm" x1="1109.7" x2="1671.4"/>
<linearGradient id="g445" href="#cm" x1="1108.5" x2="1667.9"/>
<linearGradient id="g446" href="#cm" x1="1107.2" x2="1664.5"/>
<linearGradient id="g447" href="#cm" x1="1105.9" x2="1661.0"/>
<linearGradient id="g448" href="#cm" x1="1104.7" x2="1657.6"/>
<linearGradient id="g449" href="#cm" x1="1103.4" x2="1654.2"/>
<linearGradient id="g450" href="#cm" x1="1102.1" x2="1650.8"/>
<linearGradient id="g451" href="#cm" x1="1100.9" x2="1647.5"/>
<linearGradient id="g452" href="#cm" x1="1099.7" x2="1644.1"/>
<linearGradient id="g453" href="#cm" x1="1098.4" x2="1640.8"/>
<linearGradient id="g454" href="#cm" x1="1097.2" x2="1637.4"/>
<linearGradient id="g455" href="#cm" x1="1096.0" x2="1634.1"/>
<linearGradient id="g456" href="#cm" x1="1094.7" x2="1630.8"/>
<linearGradient id="g457" href="#cm" x1="1093.5" x2="1627.5"/>
<linearGradient id="g458" href="#cm" x1="1092.3" x2="1624.2"/>
<linearGradient id="g459" href="#cm" x1="1091.1" x2="1621.0"/>
<linearGradient id="g460" href="#cm" x1="1089.9" x2="1617.7"/>
<linearGradient id="g461" href="#cm" x1="1088.7" x2="1614.5"/>
<linearGradient id="g462" href="#cm" x1="1087.5" x2="1611.2"/>
<linearGradient id="g463" href="#cm" x1="1086.3" x2="1608.0"/>
<linearGradient id="g464" href="#cm" x1="1085.1" x2="1604.8"/>
<linearGradient id="g465" href="#cm" x1="1083.9" x2="1601.6"/>
<linearGradient id="g466" href="#cm" x1="0.0" x2="0.0" y1="1275.2" y2="813.5"/>
<linearGradient id="g467" href="#cm" x1="374.0" x2="-1.6"/>
<linearGradient id="g468" href="#cm" x1="374.0" x2="722.6"/>
<linearGradient id="g469" href="#cm" x1="0.0" x2="0.0" y1="2033.3" y2="1573.5"/>
<linearGradient id="g470" href="#cm" x1="1346.2" x2="1053.6"/>
<linearGradient id="g471" href="#cm" x1="1346.2" x2="1639.2"/>
<linearGradient id="g472" href="#cm" x1="0.0" x2="0.0" y1="2033.3" y2="1573.5"/>
</defs>
<path d="M146.5 52.6V551M173.5 52.6V551M201.5 52.6V551M229.5 52.6V551M284.5 52.6V551M312.5 52.6V551M340.5 52.6V551M367.5 52.6V551M423.5 52.6V551M450.5 52.6V551M478.5 52.6V551M506.5 52.6V551M561.5 52.6V551M589.5 52.6V551M617.5 52.6V551M644.5 52.6V551M700.5 52.6V551M728.5 52.6V551M755.5 52.6V551M783.5 52.6V551M120.4 530.5H813.2M120.4 510.5H813.2M120.4 490.5H813.2M120.4 470.5H813.2M120.4 430.5H813.2M120.4 410.5H813.2M120.4 390.5H813.2M120.4 370.5H813.2M120.4 330.5H813.2M120.4 310.5H813.2M120.4 290.5H813.2M120.4 270.5H813.2M120.4 230.5H813.2M120.4 210.5H813.2M120.4 190.5H813.2M120.4 170.5H813.2M120.4 130.5H813.2M120.4 110.5H813.2M120.4 90.5H813.2M120.4 70.5H813.2" class="mn"/>
<path d="M256.5 50.6V551M395.5 50.6V551M534.5 50.6V551M672.5 50.6V551M118.4 450.5H813.2M118.4 350.5H813.2M118.4 250.5H813.2M118.4 150.5H813.2" class="mj"/>
<clipPath id="c1"><rect x="118.4" y="50.6" width="694.8" height="500.4"/></clipPath>
<g clip-path="url(#c1)">
<path d="M168.3 546L171 544.1L173.7 541.6L176.3 538.7L179 535.4L181.7 531.5L184.4 526.8L187.1 522L189.8 517.7L192.5 513.2L195.2 505.7L197.9 494.5L200.6 484.1L203.2 473.9L205.9 463.4L208.6 452.9L211.3 443.3L214 434.4L216.7 425.2L219.4 415.1L222.1 404.4L224.8 393.3L227.5 382.3L230.1 371.1L232.8 358.6L235.5 342.5L238.2 324L240.9 308.3L243.6 296.4L246.3 286L249 276.2L251.7 266.6L254.4 257.2L257 248.5L259.7 240.1L262.4 232.1L265.1 224.4L267.8 217.1L270.5 210.1L273.2 203.3L275.9 196.7L278.6 190.3L281.3 184.3L283.9 178.5L286.6 173.1L289.3 168L292 163.1L294.7 158.4L297.4 153.8L300.1 149.1L302.8 144.3L305.5 139.2L308.1 134.3L310.8 129.9L313.5 126.1L316.2 122.7L318.9 119.5L321.6 116.5L324.3 113.7L327 111L329.7 108.4L332.4 105.9L335 103.6L337.7 101.3L340.4 99.2L343.1 97L345.8 95L348.5 93L351.2 91.1L353.9 89.2L356.6 87.5L359.3 85.8L361.9 84.2L364.6 82.7L367.3 81.4L370 80.1L372.7 78.8L375.4 77.6L378.1 76.5L380.8 75.4L383.5 74.4L386.2 73.4L388.8 72.4L391.5 71.5L394.2 70.7L396.9 69.9L399.6 69.1L402.3 68.4L405 67.7L407.7 67L410.4 66.3L413.1 65.7L415.7 65.1L418.4 64.5L421.1 64L423.8 63.5L426.5 63L429.2 62.5L431.9 62.1L434.6 61.6L437.3 61.2L440 60.8L442.6 60.4L445.3 60.1L448 59.7L450.7 59.4L453.4 59.1L456.1 58.8L458.8 58.6L461.5 58.3L464.2 58L466.9 57.7L469.5 57.5L472.2 57.2L474.9 57L477.6 56.8L480.3 56.6L483 56.4L485.7 56.3L488.4 56.2L491.1 56.1L493.7 56L496.4 55.9L499.1 55.8L501.8 55.7L504.5 55.6L507.2 55.6L509.9 55.5L512.6 55.4L515.3 55.4L518 55.3L520.6 55.3L523.3 55.2L526 55.2L528.7 55.1L531.4 55.1L534.1 55L536.8 54.9L539.5 54.9L542.2 54.8L544.9 54.8L547.5 54.7L550.2 54.7L552.9 54.6L555.6 54.6L558.3 54.5L561 54.5L563.7 54.4L566.4 54.4L569.1 54.3L571.8 54.3L574.4 54.2L577.1 54.2L579.8 54.1L582.5 54.1L585.2 54.1L587.9 54L590.6 54L593.3 53.9L596 53.9L598.7 53.9L601.3 53.8L604 53.8L606.7 53.8L609.4 53.7L612.1 53.7L614.8 53.7L617.5 53.6L620.2 53.6L622.9 53.6L625.6 53.5L628.2 53.5L630.9 53.5L633.6 53.4L636.3 53.4L639 53.4L641.7 53.4L644.4 53.3L647.1 53.3L649.8 53.3L652.4 53.2L655.1 53.2L657.8 53.2L660.5 53.2L663.2 53.2L665.9 53.1L668.6 53.1L671.3 53.1L674 53.1L676.7 53.1L679.3 53.1L682 53L684.7 53L687.4 53L690.1 53L692.8 53L695.5 53L698.2 53L700.9 52.9L703.6 52.9L706.2 52.9L708.9 52.9L711.6 52.9L714.3 52.9L717 52.9L719.7 52.9L722.4 52.8L725.1 52.8L727.8 52.8L730.5 52.8L733.1 52.8L735.8 52.8L738.5 52.8L741.2 52.8L743.9 52.7L746.6 52.7L749.3 52.7L752 52.7L754.7 52.7L757.4 52.7L760 52.7L762.7 52.7L765.4 52.7L768.1 52.7L770.8 52.7L773.5 52.7L776.2 52.6L778.9 52.6L781.6 52.6L784.3 52.6L786.9 52.6L789.6 52.6L792.3 52.6L795 52.6L797.7 52.6L800.4 52.6L803.1 52.6L805.8 52.6L808.5 52.6L811.1 52.6L811.1 227.8L808.5 227.8L805.8 227.8L803.1 227.8L800.4 227.8L797.7 227.8L795 227.9L792.3 227.9L789.6 227.9L786.9 227.9L784.3 227.9L781.6 227.9L778.9 227.9L776.2 227.9L773.5 227.9L770.8 227.9L768.1 227.9L765.4 227.9L762.7 227.9L760 227.9L757.4 227.9L754.7 227.9L752 228L749.3 228L746.6 228L743.9 228L741.2 228L738.5 228L735.8 228L733.1 228L730.5 228L727.8 228L725.1 228.1L722.4 228.1L719.7 228.1L717 228.1L714.3 228.1L711.6 228.1L708.9 228.1L706.2 228.2L703.6 228.2L700.9 228.2L698.2 228.2L695.5 228.2L692.8 228.2L690.1 228.2L687.4 228.3L684.7 228.3L682 228.3L679.3 228.3L676.7 228.3L674 228.3L671.3 228.4L668.6 228.4L665.9 228.4L663.2 228.4L660.5 228.4L657.8 228.5L655.1 228.5L652.4 228.5L649.8 228.5L647.1 228.6L644.4 228.6L641.7 228.6L639 228.7L636.3 228.7L633.6 228.8L630.9 228.8L628.2 228.8L625.6 228.9L622.9 228.9L620.2 229L617.5 229L614.8 229L612.1 229.1L609.4 229.1L606.7 229.2L604 229.2L601.3 229.3L598.7 229.3L596 229.4L593.3 229.4L590.6 229.5L587.9 229.6L585.2 229.6L582.5 229.7L579.8 229.7L577.1 229.8L574.4 229.9L571.8 229.9L569.1 230L566.4 230.1L563.7 230.2L561 230.3L558.3 230.3L555.6 230.4L552.9 230.5L550.2 230.6L547.5 230.7L544.9 230.8L542.2 230.9L539.5 231L536.8 231L534.1 231.1L531.4 231.2L528.7 231.3L526 231.4L523.3 231.5L520.6 231.7L518 231.8L515.3 231.9L512.6 232L509.9 232.1L507.2 232.2L504.5 232.4L501.8 232.5L499.1 232.7L496.4 232.8L493.7 233L491.1 233.1L488.4 233.3L485.7 233.5L483 233.7L480.3 233.9L477.6 234.2L474.9 234.4L472.2 234.7L469.5 235.1L466.9 235.5L464.2 235.9L461.5 236.3L458.8 236.8L456.1 237.2L453.4 237.7L450.7 238.2L448 238.7L445.3 239.2L442.6 239.8L440 240.3L437.3 241L434.6 241.6L431.9 242.3L429.2 243L426.5 243.8L423.8 244.6L421.1 245.4L418.4 246.4L415.7 247.5L413.1 248.6L410.4 249.8L407.7 251.1L405 252.4L402.3 253.7L399.6 255.1L396.9 256.5L394.2 257.9L391.5 259.5L388.8 261L386.2 262.7L383.5 264.4L380.8 266.2L378.1 267.9L375.4 269.7L372.7 271.5L370 273.3L367.3 275.1L364.6 276.8L361.9 278.5L359.3 280.1L356.6 281.8L353.9 283.5L351.2 285.2L348.5 287L345.8 288.9L343.1 290.9L340.4 293L337.7 295.3L335 298L332.4 300.8L329.7 303.7L327 306.6L324.3 309.5L321.6 312.3L318.9 315.1L316.2 317.8L313.5 320.6L310.8 323.5L308.1 326.5L305.5 329.6L302.8 332.9L300.1 336.4L297.4 339.9L294.7 343.6L292 347.4L289.3 351.5L286.6 355.7L283.9 360.3L281.3 365.2L278.6 370.5L275.9 376.1L273.2 381.7L270.5 387.4L267.8 393.1L265.1 399L262.4 405L259.7 411L257 417L254.4 422.9L251.7 428.6L249 434L246.3 439.3L243.6 444.9L240.9 450.9L238.2 457.5L235.5 464.7L232.8 471.6L230.1 478.3L227.5 484.8L224.8 491L222.1 497.1L219.4 503L216.7 508.6L214 514.1L211.3 519.5L208.6 523.9L205.9 526.9L203.2 529.1L200.6 531.2L197.9 533.5L195.2 535.8L192.5 538L189.8 540.1L187.1 541.9L184.4 543.2L181.7 544.3L179 545.4L176.3 546.3L173.7 547.1L171 547.7L168.3 548Z" class="bb"/>
<path d="M169.1 546.1L171.8 542.3L174.5 538.5L177.2 534.5L179.9 530.6L182.5 526.6L185.2 522.5L187.9 518.6L190.6 514.4L193.3 509.7L196 504.7L198.7 499.1L201.3 493.3L204 487.8L206.7 482.3L209.4 476.7L212.1 470.9L214.8 465.2L217.5 459.3L220.2 452.6L222.8 445.1L225.5 436.5L228.2 426.7L230.9 417.3L233.6 408.1L236.3 399.1L239 390.1L241.6 381.8L244.3 374.3L247 366.2L249.7 357.3L252.4 348.6L255.1 340.3L257.8 332.1L260.4 324L263.1 316.2L265.8 308.4L268.5 300.8L271.2 293.3L273.9 286L276.6 278.8L279.3 271.9L281.9 265L284.6 258.2L287.3 252.1L290 246.9L292.7 242.3L295.4 238L298.1 233.8L300.7 229.6L303.4 225.3L306.1 221.2L308.8 217.2L311.5 213.4L314.2 209.9L316.9 206.7L319.5 203.6L322.2 200.6L324.9 197.6L327.6 194.7L330.3 191.7L333 188.7L335.7 185.9L338.4 183.3L341 180.9L343.7 178.7L346.4 176.5L349.1 174.5L351.8 172.5L354.5 170.6L357.2 168.8L359.8 167.1L362.5 165.4L365.2 163.8L367.9 162.3L370.6 160.9L373.3 159.5L376 158.2L378.6 156.9L381.3 155.6L384 154.4L386.7 153.3L389.4 152.2L392.1 151.2L394.8 150.2L397.5 149.3L400.1 148.4L402.8 147.6L405.5 146.8L408.2 146L410.9 145.2L413.6 144.5L416.3 143.8L418.9 143.2L421.6 142.5L424.3 141.9L427 141.3L429.7 140.8L432.4 140.2L435.1 139.7L437.7 139.2L440.4 138.7L443.1 138.2L445.8 137.8L448.5 137.5L451.2 137.1L453.9 136.8L456.6 136.6L459.2 136.3L461.9 136.1L464.6 135.9L467.3 135.7L470 135.5L472.7 135.3L475.4 135.1L478 134.9L480.7 134.7L483.4 134.5L486.1 134.3L488.8 134.2L491.5 134L494.2 133.8L496.8 133.6L499.5 133.4L502.2 133.2L504.9 133.1L507.6 132.9L510.3 132.7L513 132.6L515.7 132.4L518.3 132.3L521 132.2L523.7 132L526.4 131.9L529.1 131.8L531.8 131.7L534.5 131.7L537.1 131.6L539.8 131.5L542.5 131.4L545.2 131.4L547.9 131.3L550.6 131.3L553.3 131.2L555.9 131.1L558.6 131.1L561.3 131L564 131L566.7 131L569.4 130.9L572.1 130.9L574.8 130.8L577.4 130.8L580.1 130.7L582.8 130.7L585.5 130.7L588.2 130.6L590.9 130.6L593.6 130.6L596.2 130.5L598.9 130.5L601.6 130.5L604.3 130.5L607 130.4L609.7 130.4L612.4 130.4L615 130.3L617.7 130.3L620.4 130.3L623.1 130.3L625.8 130.2L628.5 130.2L631.2 130.2L633.9 130.2L636.5 130.2L639.2 130.1L641.9 130.1L644.6 130.1L647.3 130.1L650 130.1L652.7 130L655.3 130L658 130L660.7 130L663.4 130L666.1 130L668.8 130L671.5 130L674.1 130L676.8 130L679.5 129.9L682.2 129.9L684.9 129.9L687.6 129.9L690.3 129.9L693 129.9L695.6 129.9L698.3 129.9L701 129.9L703.7 129.9L706.4 129.9L709.1 129.9L711.8 129.9L714.4 129.9L717.1 129.9L719.8 129.9L722.5 129.9L725.2 129.8L727.9 129.8L730.6 129.8L733.2 129.8L735.9 129.8L738.6 129.8L741.3 129.8L744 129.8L746.7 129.8L749.4 129.8L752.1 129.8L754.7 129.8L757.4 129.8L760.1 129.8L762.8 129.8L765.5 129.8L768.2 129.8L770.9 129.8L773.5 129.8L776.2 129.8L778.9 129.8L781.6 129.8L784.3 129.8L787 129.8L789.7 129.8L792.3 129.8L795 129.8L797.7 129.8L800.4 129.8L803.1 129.8L805.8 129.8L808.5 129.8L811.1 129.8L811.1 177.2L808.5 177.2L805.8 177.2L803.1 177.2L800.4 177.2L797.7 177.2L795 177.2L792.3 177.2L789.7 177.2L787 177.2L784.3 177.2L781.6 177.2L778.9 177.2L776.2 177.2L773.5 177.2L770.9 177.2L768.2 177.2L765.5 177.2L762.8 177.2L760.1 177.2L757.4 177.2L754.7 177.2L752.1 177.2L749.4 177.2L746.7 177.2L744 177.2L741.3 177.2L738.6 177.2L735.9 177.2L733.2 177.2L730.6 177.2L727.9 177.2L725.2 177.2L722.5 177.2L719.8 177.2L717.1 177.3L714.4 177.3L711.8 177.3L709.1 177.3L706.4 177.3L703.7 177.3L701 177.3L698.3 177.3L695.6 177.3L693 177.3L690.3 177.3L687.6 177.3L684.9 177.3L682.2 177.3L679.5 177.3L676.8 177.3L674.1 177.3L671.5 177.3L668.8 177.3L666.1 177.3L663.4 177.3L660.7 177.3L658 177.3L655.3 177.3L652.7 177.3L650 177.3L647.3 177.4L644.6 177.4L641.9 177.4L639.2 177.4L636.5 177.4L633.9 177.4L631.2 177.4L628.5 177.4L625.8 177.4L623.1 177.4L620.4 177.4L617.7 177.4L615 177.5L612.4 177.5L609.7 177.5L607 177.5L604.3 177.5L601.6 177.5L598.9 177.5L596.2 177.5L593.6 177.5L590.9 177.6L588.2 177.6L585.5 177.6L582.8 177.6L580.1 177.6L577.4 177.6L574.8 177.6L572.1 177.6L569.4 177.7L566.7 177.7L564 177.7L561.3 177.7L558.6 177.7L555.9 177.7L553.3 177.7L550.6 177.8L547.9 177.8L545.2 177.8L542.5 177.8L539.8 177.9L537.1 177.9L534.5 177.9L531.8 177.9L529.1 178L526.4 178L523.7 178L521 178.1L518.3 178.1L515.7 178.1L513 178.2L510.3 178.2L507.6 178.3L504.9 178.4L502.2 178.4L499.5 178.5L496.8 178.5L494.2 178.6L491.5 178.7L488.8 178.8L486.1 178.9L483.4 178.9L480.7 179L478 179.1L475.4 179.3L472.7 179.4L470 179.6L467.3 179.8L464.6 180L461.9 180.2L459.2 180.4L456.6 180.6L453.9 180.8L451.2 181.1L448.5 181.3L445.8 181.6L443.1 181.9L440.4 182.2L437.7 182.6L435.1 182.9L432.4 183.3L429.7 183.7L427 184.1L424.3 184.5L421.6 185L418.9 185.5L416.3 186L413.6 186.5L410.9 187.1L408.2 187.7L405.5 188.3L402.8 189L400.1 189.7L397.5 190.4L394.8 191.1L392.1 191.9L389.4 192.7L386.7 193.6L384 194.6L381.3 195.6L378.6 196.6L376 197.7L373.3 198.8L370.6 200L367.9 201.3L365.2 202.6L362.5 204L359.8 205.5L357.2 207.1L354.5 208.8L351.8 210.5L349.1 212.4L346.4 214.4L343.7 216.5L341 218.6L338.4 221L335.7 223.7L333 226.7L330.3 229.8L327.6 233.1L324.9 236.4L322.2 239.8L319.5 243.4L316.9 247L314.2 250.8L311.5 254.5L308.8 258.1L306.1 261.8L303.4 265.7L300.7 269.9L298.1 274.5L295.4 279.4L292.7 284.6L290 290.1L287.3 295.8L284.6 301.8L281.9 308.1L279.3 314.6L276.6 321.6L273.9 329L271.2 336.7L268.5 344.6L265.8 352.5L263.1 361.2L260.4 370.1L257.8 377.8L255.1 383.5L252.4 387.9L249.7 392L247 396.7L244.3 403.1L241.6 411.5L239 419.5L236.3 427.2L233.6 435.2L230.9 443.7L228.2 450.7L225.5 456.2L222.8 461.4L220.2 466.5L217.5 471.6L214.8 476.6L212.1 481.5L209.4 486.3L206.7 491.2L204 496.2L201.3 501.1L198.7 506L196 510.6L193.3 514.6L190.6 518.3L187.9 522L185.2 525.5L182.5 529.2L179.9 532.8L177.2 536.5L174.5 540.1L171.8 543.5L169.1 546.7Z" class="pb"/>
</g>
<g class="gd"><circle cx="123.9" cy="550.6" r="5.1"/><circle cx="129.5" cy="550.5" r="5.1"/><circle cx="135" cy="550.3" r="5.1"/><circle cx="140.6" cy="550" r="5.1"/><circle cx="146.1" cy="549.7" r="5.1"/><circle cx="151.7" cy="549.2" r="5.1"/><circle cx="157.2" cy="548.5" r="5.1"/><circle cx="162.7" cy="547.7" r="5.1"/><circle cx="168.3" cy="547" r="5.1"/><circle cx="173.8" cy="544.8" r="5.1"/><circle cx="179.4" cy="542" r="5.1"/><circle cx="184.9" cy="538.5" r="5.1"/><circle cx="190.4" cy="534.1" r="5.1"/><circle cx="196" cy="527.4" r="5.1"/><circle cx="201.5" cy="516.6" r="5.1"/><circle cx="207.1" cy="503.2" r="5.1"/><circle cx="212.6" cy="486.5" r="5.1"/><circle cx="218.2" cy="467.3" r="5.1"/><circle cx="223.7" cy="449" r="5.1"/><circle cx="229.2" cy="430" r="5.1"/><circle cx="234.8" cy="411.8" r="5.1"/><circle cx="240.3" cy="392.7" r="5.1"/><circle cx="245.9" cy="375.7" r="5.1"/><circle cx="251.4" cy="360" r="5.1"/><circle cx="256.9" cy="344.7" r="5.1"/><circle cx="262.5" cy="329.3" r="5.1"/><circle cx="268" cy="314.4" r="5.1"/><circle cx="273.6" cy="300.5" r="5.1"/><circle cx="279.1" cy="287.6" r="5.1"/><circle cx="284.7" cy="275.3" r="5.1"/><circle cx="290.2" cy="264.5" r="5.1"/><circle cx="295.7" cy="254.8" r="5.1"/><circle cx="301.3" cy="245.5" r="5.1"/><circle cx="306.8" cy="236.4" r="5.1"/><circle cx="312.4" cy="228.2" r="5.1"/><circle cx="317.9" cy="221.3" r="5.1"/><circle cx="323.5" cy="215" r="5.1"/><circle cx="329" cy="208.9" r="5.1"/><circle cx="334.5" cy="202.8" r="5.1"/><circle cx="340.1" cy="197.2" r="5.1"/><circle cx="345.6" cy="192.5" r="5.1"/><circle cx="351.2" cy="188.2" r="5.1"/><circle cx="356.7" cy="184.3" r="5.1"/><circle cx="362.2" cy="180.6" r="5.1"/><circle cx="367.8" cy="177.4" r="5.1"/><circle cx="373.3" cy="174.6" r="5.1"/><circle cx="378.9" cy="172" r="5.1"/><circle cx="384.4" cy="169.6" r="5.1"/><circle cx="390" cy="167.4" r="5.1"/><circle cx="395.5" cy="165.5" r="5.1"/><circle cx="401" cy="163.8" r="5.1"/><circle cx="406.6" cy="162.2" r="5.1"/><circle cx="412.1" cy="160.7" r="5.1"/><circle cx="417.7" cy="159.4" r="5.1"/><circle cx="423.2" cy="158.3" r="5.1"/><circle cx="428.8" cy="157.2" r="5.1"/><circle cx="434.3" cy="156.3" r="5.1"/><circle cx="439.8" cy="155.4" r="5.1"/><circle cx="445.4" cy="154.6" r="5.1"/><circle cx="450.9" cy="153.9" r="5.1"/><circle cx="456.5" cy="153.2" r="5.1"/><circle cx="462" cy="152.6" r="5.1"/></g>
<g clip-path="url(#c1)">
<path d="M169.1 546.7L171.8 543L174.5 539.3L177.2 535.5L179.9 531.6L182.5 527.7L185.2 523.8L187.9 519.9L190.6 516L193.3 511.7L196 507L198.7 501.6L201.3 496L204 490.6L206.7 485.3L209.4 479.9L212.1 474.4L214.8 468.7L217.5 462.9L220.2 457.3L222.8 451.2L225.5 443L228.2 433.5L230.9 424.5L233.6 415.8L236.3 406.8L239 397.6L241.6 389L244.3 381.3L247 373.8L249.7 366.4L252.4 359.1L255.1 351.7L257.8 344.2L260.4 336.7L263.1 329.3L265.8 322L268.5 314.8L271.2 307.9L273.9 301.1L276.6 294.6L279.3 288.2L281.9 281.8L284.6 275.6L287.3 269.9L290 264.5L292.7 259.4L295.4 254.5L298.1 249.8L300.7 245.2L303.4 240.6L306.1 236.1L308.8 231.9L311.5 228L314.2 224.4L316.9 221L319.5 217.9L322.2 214.8L324.9 211.9L327.6 208.9L330.3 206L333 203L335.7 200.2L338.4 197.5L341 195.1L343.7 192.8L346.4 190.7L349.1 188.6L351.8 186.7L354.5 184.8L357.2 183.1L359.8 181.4L362.5 179.7L365.2 178.2L367.9 176.8L370.6 175.5L373.3 174.2L376 172.9L378.6 171.7L381.3 170.5L384 169.4L386.7 168.4L389.4 167.4L392.1 166.6L394.8 165.9L397.5 165.3L400.1 164.7L402.8 164.2L405.5 163.7L408.2 163.3L410.9 162.8L413.6 162.5L416.3 162.1L418.9 161.7L421.6 161.4L424.3 161L427 160.7L429.7 160.4L432.4 160.1L435.1 159.8L437.7 159.5L440.4 159.2L443.1 159L445.8 158.7L448.5 158.5L451.2 158.3L453.9 158.1L456.6 157.9L459.2 157.7L461.9 157.6L464.6 157.4L467.3 157.2L470 157.1L472.7 157L475.4 156.8L478 156.7L480.7 156.6L483.4 156.4L486.1 156.3L488.8 156.2L491.5 156.1L494.2 156L496.8 156L499.5 155.9L502.2 155.8L504.9 155.7L507.6 155.7L510.3 155.6L513 155.6L515.7 155.5L518.3 155.4L521 155.4L523.7 155.3L526.4 155.3L529.1 155.3L531.8 155.2L534.5 155.2L537.1 155.1L539.8 155.1L542.5 155.1L545.2 155L547.9 155L550.6 155L553.3 155L555.9 154.9L558.6 154.9L561.3 154.9L564 154.9L566.7 154.8L569.4 154.8L572.1 154.8L574.8 154.8L577.4 154.7L580.1 154.7L582.8 154.7L585.5 154.7L588.2 154.7L590.9 154.6L593.6 154.6L596.2 154.6L598.9 154.6L601.6 154.6L604.3 154.6L607 154.6L609.7 154.6L612.4 154.5L615 154.5L617.7 154.5L620.4 154.5L623.1 154.5L625.8 154.5L628.5 154.5L631.2 154.5L633.9 154.5L636.5 154.5L639.2 154.4L641.9 154.4L644.6 154.4L647.3 154.4L650 154.4L652.7 154.4L655.3 154.4L658 154.4L660.7 154.4L663.4 154.4L666.1 154.4L668.8 154.4L671.5 154.4L674.1 154.4L676.8 154.4L679.5 154.4L682.2 154.4L684.9 154.4L687.6 154.4L690.3 154.4L693 154.4L695.6 154.4L698.3 154.4L701 154.4L703.7 154.4L706.4 154.4L709.1 154.4L711.8 154.4L714.4 154.4L717.1 154.4L719.8 154.4L722.5 154.4L725.2 154.4L727.9 154.4L730.6 154.4L733.2 154.4L735.9 154.4L738.6 154.4L741.3 154.4L744 154.4L746.7 154.4L749.4 154.4L752.1 154.4L754.7 154.4L757.4 154.4L760.1 154.4L762.8 154.4L765.5 154.4L768.2 154.4L770.9 154.4L773.5 154.4L776.2 154.4L778.9 154.4L781.6 154.4L784.3 154.4L787 154.4L789.7 154.4L792.3 154.4L795 154.4L797.7 154.4L800.4 154.4L803.1 154.4L805.8 154.4L808.5 154.4L811.1 154.4" class="rd"/>
<path d="M168.3 547L171 546L173.7 544.9L176.3 543.6L179 542.2L181.7 540.6L184.4 538.9L187.1 536.9L189.8 534.7L192.5 532.1L195.2 528.7L197.9 524.1L200.6 518.7L203.2 512.7L205.9 506.3L208.6 498.8L211.3 490.7L214 481.6L216.7 472.1L219.4 463.2L222.1 454.5L224.8 445.4L227.5 436L230.1 427L232.8 418.2L235.5 409.3L238.2 399.9L240.9 390.8L243.6 382.4L246.3 374.5L249 366.7L251.7 359.3L254.4 351.9L257 344.4L259.7 336.9L262.4 329.5L265.1 322.2L267.8 315L270.5 308.1L273.2 301.5L275.9 295.1L278.6 288.9L281.3 282.8L283.9 276.8L286.6 271.3L289.3 266.1L292 261.3L294.7 256.6L297.4 252.1L300.1 247.6L302.8 243.1L305.5 238.6L308.1 234.4L310.8 230.4L313.5 226.7L316.2 223.3L318.9 220.1L321.6 217.1L324.3 214.1L327 211.1L329.7 208.1L332.4 205.1L335 202.2L337.7 199.4L340.4 196.9L343.1 194.5L345.8 192.3L348.5 190.2L351.2 188.2L353.9 186.2L356.6 184.4L359.3 182.5L361.9 180.8L364.6 179.2L367.3 177.6L370 176.2L372.7 174.9L375.4 173.6L378.1 172.3L380.8 171.1L383.5 170L386.2 168.9L388.8 167.8L391.5 166.8L394.2 165.9L396.9 165L399.6 164.2L402.3 163.4L405 162.6L407.7 161.9L410.4 161.2L413.1 160.5L415.7 159.9L418.4 159.3L421.1 158.7L423.8 158.2L426.5 157.7L429.2 157.2L431.9 156.7L434.6 156.3L437.3 155.8L440 155.4L442.6 155L445.3 154.6L448 154.3L450.7 153.9L453.4 153.6L456.1 153.3L458.8 153L461.5 152.7L464.2 152.4L466.9 152.1L469.5 151.8L472.2 151.4L474.9 151.1L477.6 150.8L480.3 150.6L483 150.4L485.7 150.2L488.4 150L491.1 149.8L493.7 149.6L496.4 149.4L499.1 149.2L501.8 149.1L504.5 148.9L507.2 148.8L509.9 148.6L512.6 148.5L515.3 148.3L518 148.2L520.6 148.1L523.3 148L526 147.9L528.7 147.8L531.4 147.7L534.1 147.6L536.8 147.5L539.5 147.4L542.2 147.3L544.9 147.2L547.5 147.2L550.2 147.1L552.9 147L555.6 146.9L558.3 146.9L561 146.8L563.7 146.7L566.4 146.7L569.1 146.6L571.8 146.6L574.4 146.5L577.1 146.5L579.8 146.4L582.5 146.4L585.2 146.3L587.9 146.3L590.6 146.2L593.3 146.2L596 146.2L598.7 146.1L601.3 146.1L604 146.1L606.7 146L609.4 146L612.1 146L614.8 146L617.5 146L620.2 145.9L622.9 145.9L625.6 145.9L628.2 145.9L630.9 145.9L633.6 145.8L636.3 145.8L639 145.8L641.7 145.8L644.4 145.8L647.1 145.8L649.8 145.8L652.4 145.7L655.1 145.7L657.8 145.7L660.5 145.7L663.2 145.7L665.9 145.7L668.6 145.7L671.3 145.7L674 145.7L676.7 145.7L679.3 145.7L682 145.7L684.7 145.6L687.4 145.6L690.1 145.6L692.8 145.6L695.5 145.6L698.2 145.6L700.9 145.6L703.6 145.6L706.2 145.6L708.9 145.6L711.6 145.6L714.3 145.6L717 145.6L719.7 145.6L722.4 145.6L725.1 145.6L727.8 145.6L730.5 145.6L733.1 145.5L735.8 145.5L738.5 145.5L741.2 145.5L743.9 145.5L746.6 145.5L749.3 145.5L752 145.5L754.7 145.5L757.4 145.5L760 145.5L762.7 145.5L765.4 145.5L768.1 145.5L770.8 145.5L773.5 145.5L776.2 145.5L778.9 145.5L781.6 145.5L784.3 145.5L786.9 145.5L789.6 145.5L792.3 145.5L795 145.5L797.7 145.5L800.4 145.5L803.1 145.5L805.8 145.5L808.5 145.5L811.1 145.5" class="bl"/>
</g>
<path d="M118.4 551v-7M118.4 50.6v7M256.9 551v-7M256.9 50.6v7M395.5 551v-7M395.5 50.6v7M534 551v-7M534 50.6v7M672.6 551v-7M672.6 50.6v7M811.1 551v-7M811.1 50.6v7M118.4 551h7M813.2 551h-7M118.4 450.9h7M813.2 450.9h-7M118.4 350.8h7M813.2 350.8h-7M118.4 250.8h7M813.2 250.8h-7M118.4 150.7h7M813.2 150.7h-7M118.4 50.6h7M813.2 50.6h-7" class="tk"/>
<rect x="118.4" y="50.6" width="694.8" height="500.4" class="bx"/>
<text transform="translate(118.4 596.3) scale(0.915 1)" font-size="41.5" class="s" text-anchor="middle">0</text>
<text transform="translate(257.9 596.3) scale(0.915 1)" font-size="41.5" class="s" text-anchor="middle">50</text>
<text transform="translate(396.5 596.3) scale(0.915 1)" font-size="41.5" class="s" text-anchor="middle">100</text>
<text transform="translate(535 596.3) scale(0.915 1)" font-size="41.5" class="s" text-anchor="middle">150</text>
<text transform="translate(673.6 596.3) scale(0.915 1)" font-size="41.5" class="s" text-anchor="middle">200</text>
<text transform="translate(812.1 596.3) scale(0.915 1)" font-size="41.5" class="s" text-anchor="middle">250</text>
<text transform="translate(104.5 561.9) scale(0.915 1)" font-size="41.5" class="s" text-anchor="end">0</text>
<text transform="translate(104.5 461.8) scale(0.915 1)" font-size="41.5" class="s" text-anchor="end">0.1</text>
<text transform="translate(104.5 361.7) scale(0.915 1)" font-size="41.5" class="s" text-anchor="end">0.2</text>
<text transform="translate(104.5 261.7) scale(0.915 1)" font-size="41.5" class="s" text-anchor="end">0.3</text>
<text transform="translate(104.5 161.6) scale(0.915 1)" font-size="41.5" class="s" text-anchor="end">0.4</text>
<text transform="translate(104.5 61.5) scale(0.915 1)" font-size="41.5" class="s" text-anchor="end">0.5</text>
<text x="466.8" y="29.4" font-size="42.5" class="s" text-anchor="middle" textLength="85" lengthAdjust="spacingAndGlyphs">Italy</text>
<g transform="translate(330.7 648)" class="s" font-size="42.5"><text x="0" textLength="93" lengthAdjust="spacingAndGlyphs">Time</text><text x="112.3" textLength="47.2" lengthAdjust="spacingAndGlyphs">(in</text><text x="175.9" textLength="93.4" lengthAdjust="spacingAndGlyphs">days)</text></g>
<g transform="translate(34.8 550.6) rotate(-90)" class="s" font-size="42.5"><text x="0" textLength="157.6" lengthAdjust="spacingAndGlyphs">Detected</text><text x="178.3" textLength="45.3" lengthAdjust="spacingAndGlyphs">(in</text><text x="242.3" textLength="31.1" lengthAdjust="spacingAndGlyphs">%</text><text x="290" textLength="211.4" lengthAdjust="spacingAndGlyphs">population)</text></g>
<rect x="540" y="332.5" width="257.6" height="201.3" class="lg"/>
<circle cx="578.2" cy="354.4" r="5" class="gd"/>
<path d="M546.2 393.8H610" class="rd" style="stroke-dasharray:7.8 8.6"/>
<rect x="546" y="418.7" width="64.6" height="28.7" class="pb"/>
<path d="M546.2 472.2H610.2" class="bl"/>
<rect x="546" y="497.5" width="64.6" height="29.1" class="bb"/>
<text x="615.6" y="361.4" font-size="32.5" class="s" textLength="67.9" lengthAdjust="spacingAndGlyphs">Data</text>
<text x="616.2" y="400.3" class="s" font-size="33.5" font-style="italic" textLength="13.7" lengthAdjust="spacingAndGlyphs">h</text>
<text x="630.9" y="405.8" class="s" font-size="24" font-style="italic" textLength="20" lengthAdjust="spacingAndGlyphs">m</text>
<text x="657.5" y="400.3" class="s" font-size="33.5" textLength="30.8" lengthAdjust="spacingAndGlyphs">(<tspan font-style="italic">t</tspan>)</text>
<g transform="translate(615.9 440)" class="s" font-size="32.5"><text x="0" textLength="40.1" lengthAdjust="spacingAndGlyphs">2%</text><text x="53.2" textLength="51.7" lengthAdjust="spacingAndGlyphs">par.</text><text x="123.1" textLength="49.8" lengthAdjust="spacingAndGlyphs">var.</text></g>
<text x="616.2" y="479.6" class="s" font-size="33.5" font-style="italic" textLength="13.7" lengthAdjust="spacingAndGlyphs">h</text>
<text x="636" y="479.6" class="s" font-size="33.5" textLength="30.8" lengthAdjust="spacingAndGlyphs">(<tspan font-style="italic">t</tspan>)</text>
<g transform="translate(615.9 519)" class="s" font-size="32.5"><text x="0" textLength="40.1" lengthAdjust="spacingAndGlyphs">2%</text><text x="53.2" textLength="51.7" lengthAdjust="spacingAndGlyphs">par.</text><text x="123.1" textLength="49.8" lengthAdjust="spacingAndGlyphs">var.</text></g>
<path d="M1064.5 52.6V551M1092.5 52.6V551M1119.5 52.6V551M1147.5 52.6V551M1201.5 52.6V551M1229.5 52.6V551M1256.5 52.6V551M1284.5 52.6V551M1338.5 52.6V551M1366.5 52.6V551M1393.5 52.6V551M1421.5 52.6V551M1475.5 52.6V551M1503.5 52.6V551M1530.5 52.6V551M1558.5 52.6V551M1612.5 52.6V551M1640.5 52.6V551M1667.5 52.6V551M1695.5 52.6V551M1039.4 525.5H1724M1039.4 500.5H1724M1039.4 475.5H1724M1039.4 425.5H1724M1039.4 400.5H1724M1039.4 375.5H1724M1039.4 325.5H1724M1039.4 300.5H1724M1039.4 275.5H1724M1039.4 225.5H1724M1039.4 200.5H1724M1039.4 175.5H1724M1039.4 125.5H1724M1039.4 100.5H1724M1039.4 75.5H1724" class="mn"/>
<path d="M1174.5 50.6V551M1311.5 50.6V551M1448.5 50.6V551M1585.5 50.6V551M1037.4 450.5H1724M1037.4 350.5H1724M1037.4 250.5H1724M1037.4 150.5H1724" class="mj"/>
<clipPath id="c2"><rect x="1037.4" y="50.6" width="686.6" height="500.4"/></clipPath>
<g clip-path="url(#c2)">
<path d="M1088.4 508L1090.8 504.3L1093.3 500.6L1095.7 496.8L1098.2 492.7L1100.6 488.4L1103.1 483.8L1105.5 479L1107.9 474L1110.4 468.8L1112.9 463.4L1115.4 457.8L1117.9 452L1120.4 446L1122.9 439.8L1125.4 433.3L1127.9 426.8L1130.4 420L1133 413.1L1135.5 406L1138 398.8L1140.6 391.4L1143.1 383.9L1145.6 376.2L1148.1 368.5L1150.6 360.6L1153.1 352.7L1155.6 344.7L1158.1 336.6L1160.6 328.5L1163.1 320.4L1165.5 312.3L1168 304.2L1170.4 296.2L1172.9 288.2L1175.4 280.3L1177.9 272.5L1180.4 264.9L1182.9 257.3L1185.4 249.9L1187.9 242.7L1190.4 235.7L1193 228.9L1195.6 222.3L1198.3 215.9L1200.9 209.8L1203.5 203.9L1206.3 198.4L1209.1 193.1L1211.9 188.1L1214.6 183.3L1217.4 178.8L1220.2 174.4L1223 170.3L1225.8 166.4L1228.6 162.8L1231.4 159.2L1234.2 155.9L1237 152.7L1239.8 149.7L1242.6 146.8L1245.4 144L1248.2 141.4L1251 138.9L1253.8 136.4L1256.6 134.1L1259.3 131.8L1262.1 129.7L1264.9 127.6L1267.7 125.6L1270.4 123.8L1273.2 121.9L1276 120.2L1278.8 118.6L1281.6 117L1284.4 115.6L1287.1 114.2L1289.9 112.9L1292.7 111.6L1295.5 110.4L1298.3 109.3L1301.1 108.3L1303.8 107.3L1306.6 106.4L1309.5 105.5L1312.3 104.8L1315 104.1L1317.8 103.5L1320.5 102.9L1323.3 102.3L1326 101.8L1328.7 101.3L1331.4 100.9L1334.1 100.4L1336.9 100L1339.6 99.7L1342.3 99.4L1345 99.1L1347.7 98.8L1350.4 98.5L1353.1 98.3L1355.8 98L1358.5 97.8L1361.2 97.6L1363.8 97.4L1366.5 97.2L1369.2 97.1L1371.8 96.9L1374.5 96.7L1377.2 96.6L1379.8 96.4L1382.5 96.3L1385.2 96.2L1387.8 96L1390.5 95.9L1393.1 95.7L1395.8 95.6L1398.5 95.5L1401.1 95.4L1403.8 95.3L1406.4 95.1L1409.1 95L1411.7 94.9L1414.4 94.8L1417 94.7L1419.7 94.6L1422.4 94.4L1425 94.3L1427.7 94.2L1430.3 94.1L1433 94L1435.7 93.9L1438.3 93.9L1441 93.8L1443.7 93.7L1446.4 93.6L1449 93.6L1451.7 93.5L1454.3 93.5L1457 93.4L1459.6 93.4L1462.3 93.3L1465 93.3L1467.6 93.2L1470.3 93.2L1472.9 93.1L1475.6 93.1L1478.2 93L1480.9 93L1483.6 93L1486.2 92.9L1488.9 92.9L1491.5 92.9L1494.2 92.8L1496.8 92.8L1499.5 92.8L1502.1 92.7L1504.8 92.7L1507.5 92.7L1510.1 92.6L1512.8 92.6L1515.4 92.6L1518.1 92.6L1520.7 92.6L1523.4 92.5L1526 92.5L1528.7 92.5L1531.3 92.5L1534 92.5L1536.7 92.4L1539.3 92.4L1542 92.4L1544.6 92.4L1547.3 92.4L1549.9 92.3L1552.6 92.3L1555.2 92.3L1557.9 92.3L1560.5 92.3L1563.2 92.3L1565.9 92.3L1568.5 92.2L1571.2 92.2L1573.8 92.2L1576.5 92.2L1579.1 92.2L1581.8 92.2L1584.4 92.2L1587.1 92.2L1589.7 92.2L1592.4 92.2L1595 92.2L1597.7 92.2L1600.4 92.2L1603 92.1L1605.7 92.1L1608.3 92.1L1611 92.1L1613.6 92.1L1616.3 92.1L1618.9 92.1L1621.6 92.1L1624.2 92.1L1626.9 92.1L1629.5 92.1L1632.2 92.1L1634.8 92.1L1637.5 92.1L1640.1 92.1L1642.8 92.1L1645.5 92.1L1648.1 92.1L1650.8 92.1L1653.4 92L1656.1 92L1658.7 92L1661.4 92L1664 92L1666.7 92L1669.3 92L1672 92L1674.6 92L1677.3 92L1679.9 92L1682.6 92L1685.3 92L1687.9 92L1690.6 92L1693.2 92L1695.9 92L1698.5 92L1701.2 92L1703.8 92L1706.5 92L1709.1 92L1711.8 92L1714.4 92L1717.1 92L1719.7 92L1722.4 92L1722.4 104.6L1719.7 104.6L1717.1 104.6L1714.4 104.6L1711.8 104.6L1709.1 104.6L1706.5 104.6L1703.8 104.6L1701.2 104.6L1698.5 104.6L1695.9 104.6L1693.2 104.6L1690.6 104.6L1687.9 104.6L1685.3 104.6L1682.6 104.6L1680 104.6L1677.3 104.6L1674.7 104.6L1672 104.6L1669.4 104.6L1666.7 104.6L1664 104.6L1661.4 104.6L1658.7 104.6L1656.1 104.6L1653.4 104.6L1650.8 104.7L1648.1 104.7L1645.5 104.7L1642.8 104.7L1640.2 104.7L1637.5 104.7L1634.9 104.7L1632.2 104.7L1629.6 104.7L1626.9 104.7L1624.3 104.7L1621.6 104.7L1619 104.7L1616.3 104.7L1613.6 104.7L1611 104.7L1608.3 104.7L1605.7 104.7L1603 104.7L1600.4 104.8L1597.7 104.8L1595.1 104.8L1592.4 104.8L1589.8 104.8L1587.1 104.8L1584.5 104.8L1581.8 104.8L1579.2 104.8L1576.5 104.8L1573.9 104.8L1571.2 104.8L1568.6 104.8L1565.9 104.9L1563.3 104.9L1560.6 104.9L1558 104.9L1555.3 104.9L1552.7 104.9L1550 104.9L1547.4 105L1544.7 105L1542 105L1539.4 105L1536.7 105L1534.1 105.1L1531.4 105.1L1528.8 105.1L1526.1 105.1L1523.5 105.1L1520.8 105.2L1518.2 105.2L1515.5 105.2L1512.9 105.2L1510.2 105.2L1507.6 105.3L1504.9 105.3L1502.3 105.3L1499.6 105.4L1497 105.4L1494.3 105.4L1491.7 105.5L1489 105.5L1486.4 105.5L1483.7 105.6L1481.1 105.6L1478.4 105.6L1475.8 105.7L1473.1 105.7L1470.5 105.8L1467.8 105.8L1465.2 105.9L1462.5 105.9L1459.9 106L1457.2 106L1454.6 106.1L1451.9 106.1L1449.3 106.2L1446.7 106.2L1444 106.3L1441.4 106.4L1438.7 106.5L1436.1 106.5L1433.5 106.6L1430.8 106.7L1428.2 106.8L1425.5 106.9L1422.9 107L1420.2 107.1L1417.6 107.3L1414.9 107.4L1412.3 107.5L1409.6 107.6L1407 107.7L1404.3 107.8L1401.7 108L1399 108.1L1396.4 108.2L1393.7 108.3L1391.1 108.5L1388.5 108.6L1385.8 108.7L1383.2 108.9L1380.5 109L1377.9 109.2L1375.2 109.3L1372.6 109.5L1370 109.6L1367.3 109.8L1364.7 110L1362.1 110.2L1359.4 110.4L1356.8 110.6L1354.2 110.8L1351.6 111L1349 111.3L1346.4 111.6L1343.8 111.9L1341.2 112.2L1338.6 112.5L1336 112.9L1333.4 113.3L1330.9 113.7L1328.3 114.2L1325.7 114.7L1323.1 115.2L1320.5 115.8L1318 116.4L1315.4 117L1312.9 117.7L1310.5 118.4L1308 119.3L1305.4 120.2L1302.9 121.2L1300.4 122.2L1297.9 123.3L1295.4 124.5L1292.8 125.7L1290.3 127L1287.8 128.4L1285.2 129.8L1282.7 131.3L1280.2 132.9L1277.7 134.5L1275.2 136.3L1272.6 138.1L1270.1 140.1L1267.6 142.1L1265 144.2L1262.5 146.4L1260 148.7L1257.4 151.1L1254.9 153.6L1252.4 156.2L1249.9 158.9L1247.4 161.8L1244.9 164.8L1242.4 168L1239.9 171.3L1237.4 174.8L1234.9 178.5L1232.4 182.3L1229.9 186.4L1227.4 190.8L1224.8 195.3L1222.3 200.1L1219.8 205.1L1217.3 210.4L1214.6 216L1211.9 221.9L1209.2 228L1206.6 234.3L1203.9 240.9L1201.1 247.7L1198.3 254.7L1195.5 261.9L1192.7 269.2L1189.9 276.7L1187.1 284.3L1184.2 292L1181.4 299.9L1178.5 307.7L1175.7 315.7L1172.8 323.7L1170 331.6L1167.2 339.6L1164.4 347.6L1161.6 355.6L1158.8 363.4L1155.9 371.2L1153.1 378.8L1150.4 386.4L1147.6 393.9L1144.8 401.2L1142 408.4L1139.3 415.5L1136.5 422.4L1133.7 429.1L1130.9 435.6L1128.1 442L1125.3 448.1L1122.5 454.1L1119.7 459.8L1116.9 465.4L1114 470.7L1111.2 475.8L1108.4 480.6L1105.5 485.2L1102.6 489.6L1099.8 493.7L1096.9 497.6L1094.1 501.1L1091.2 504.6L1088.4 508Z" class="pb" style="fill-opacity:.15;stroke-opacity:.12"/>
<path d="M1088.4 551L1091 550.6L1093.7 550L1096.3 549.2L1099 548.2L1101.6 546.8L1104.3 545.4L1106.9 543.7L1109.6 541.8L1112.2 539.8L1114.9 537.6L1117.5 535.3L1120.2 533L1122.9 530.5L1125.5 527.9L1128.2 525.2L1130.8 522.6L1133.5 520L1136.1 517.4L1138.8 514.8L1141.4 512.2L1144.1 509.6L1146.7 506.9L1149.4 504.3L1152 501.7L1154.7 499L1157.3 496.4L1160 493.9L1162.6 491.3L1165.3 488.7L1168 486.2L1170.6 483.8L1173.3 481.5L1175.9 479.3L1178.6 477.2L1181.2 475.2L1183.9 473.3L1186.5 471.4L1189.2 469.6L1191.8 467.8L1194.5 466.2L1197.1 464.6L1199.8 463.1L1202.4 461.7L1205.1 460.3L1207.7 459L1210.4 457.8L1213 456.7L1215.7 455.6L1218.4 454.5L1221 453.5L1223.7 452.5L1226.3 451.6L1229 450.8L1231.6 450L1234.3 449.2L1236.9 448.5L1239.6 447.8L1242.2 447.1L1244.9 446.4L1247.5 445.8L1250.2 445.2L1252.8 444.6L1255.5 444.1L1258.1 443.6L1260.8 443L1263.5 442.5L1266.1 442L1268.8 441.5L1271.4 441L1274.1 440.6L1276.7 440.2L1279.4 439.8L1282 439.4L1284.7 439.1L1287.3 438.8L1290 438.5L1292.6 438.2L1295.3 438L1297.9 437.7L1300.6 437.5L1303.2 437.3L1305.9 437.1L1308.6 436.9L1311.2 436.8L1313.9 436.6L1316.5 436.5L1319.2 436.3L1321.8 436.2L1324.5 436.1L1327.1 436L1329.8 435.9L1332.4 435.8L1335.1 435.7L1337.7 435.6L1340.4 435.4L1343 435.3L1345.7 435.2L1348.3 435.1L1351 435L1353.7 434.9L1356.3 434.8L1359 434.8L1361.6 434.7L1364.3 434.6L1366.9 434.5L1369.6 434.4L1372.2 434.3L1374.9 434.2L1377.5 434.1L1380.2 434L1382.8 434L1385.5 433.9L1388.1 433.8L1390.8 433.7L1393.4 433.7L1396.1 433.6L1398.7 433.5L1401.4 433.4L1404.1 433.4L1406.7 433.3L1409.4 433.3L1412 433.2L1414.7 433.2L1417.3 433.2L1420 433.2L1422.6 433.2L1425.3 433.2L1427.9 433.2L1430.6 433.1L1433.2 433.1L1435.9 433.1L1438.5 433.1L1441.2 433.1L1443.8 433.1L1446.5 433.1L1449.2 433.1L1451.8 433.1L1454.5 433.1L1457.1 433.1L1459.8 433.1L1462.4 433.1L1465.1 433.1L1467.7 433.1L1470.4 433.1L1473 433.1L1475.7 433.1L1478.3 433.1L1481 433.1L1483.6 433.1L1486.3 433.1L1488.9 433.1L1491.6 433.1L1494.3 433.1L1496.9 433L1499.6 433L1502.2 433L1504.9 433L1507.5 433L1510.2 433L1512.8 433L1515.5 433L1518.1 433L1520.8 433L1523.4 433L1526.1 433L1528.7 433L1531.4 433L1534 433L1536.7 433L1539.4 433L1542 433L1544.7 433L1547.3 433L1550 433L1552.6 433L1555.3 433L1557.9 433L1560.6 433L1563.2 433L1565.9 433L1568.5 433L1571.2 433L1573.8 433L1576.5 433L1579.1 433L1581.8 433L1584.5 433L1587.1 433L1589.8 433L1592.4 433L1595.1 433L1597.7 433L1600.4 433L1603 433L1605.7 433L1608.3 433L1611 433L1613.6 433L1616.3 433L1618.9 433L1621.6 433L1624.2 433L1626.9 433L1629.5 433L1632.2 433L1634.9 433L1637.5 433L1640.2 433L1642.8 433L1645.5 433L1648.1 433L1650.8 433L1653.4 433L1656.1 433L1658.7 433L1661.4 433L1664 433L1666.7 433L1669.3 433L1672 433L1674.6 433L1677.3 433L1680 433L1682.6 433L1685.3 433L1687.9 433L1690.6 433L1693.2 433L1695.9 433L1698.5 433L1701.2 433L1703.8 433L1706.5 433L1709.1 433L1711.8 433L1714.4 433L1717.1 433L1719.7 433L1722.4 433L1722.4 473.9L1719.7 473.9L1717.1 473.9L1714.4 473.9L1711.8 473.9L1709.1 473.9L1706.5 473.9L1703.8 473.9L1701.2 473.9L1698.5 473.9L1695.9 473.9L1693.2 473.9L1690.6 473.9L1687.9 474L1685.3 474L1682.6 474L1680 474L1677.3 474L1674.6 474L1672 474L1669.3 474L1666.7 474L1664 474L1661.4 474L1658.7 474L1656.1 474L1653.4 474L1650.8 474L1648.1 474L1645.5 474L1642.8 474L1640.2 474L1637.5 474L1634.9 474L1632.2 474L1629.5 474L1626.9 474L1624.2 474L1621.6 474L1618.9 474L1616.3 474L1613.6 474L1611 474L1608.3 474L1605.7 474L1603 474L1600.4 474L1597.7 474L1595.1 474L1592.4 474L1589.8 474L1587.1 474L1584.5 474L1581.8 474L1579.1 474L1576.5 474L1573.8 474.1L1571.2 474.1L1568.5 474.1L1565.9 474.1L1563.2 474.1L1560.6 474.1L1557.9 474.1L1555.3 474.1L1552.6 474.1L1550 474.1L1547.3 474.1L1544.7 474.1L1542 474.1L1539.4 474.1L1536.7 474.1L1534 474.1L1531.4 474.1L1528.7 474.1L1526.1 474.1L1523.4 474.1L1520.8 474.1L1518.1 474.1L1515.5 474.1L1512.8 474.1L1510.2 474.1L1507.5 474.1L1504.9 474.1L1502.2 474.2L1499.6 474.2L1496.9 474.2L1494.3 474.2L1491.6 474.2L1488.9 474.2L1486.3 474.2L1483.6 474.2L1481 474.2L1478.3 474.2L1475.7 474.2L1473 474.2L1470.4 474.2L1467.7 474.2L1465.1 474.2L1462.4 474.2L1459.8 474.3L1457.1 474.3L1454.5 474.3L1451.8 474.3L1449.2 474.3L1446.5 474.3L1443.8 474.3L1441.2 474.3L1438.5 474.3L1435.9 474.3L1433.2 474.4L1430.6 474.4L1427.9 474.4L1425.3 474.4L1422.6 474.4L1420 474.4L1417.3 474.5L1414.7 474.5L1412 474.5L1409.4 474.6L1406.7 474.6L1404.1 474.7L1401.4 474.8L1398.7 474.9L1396.1 475L1393.4 475L1390.8 475.1L1388.1 475.2L1385.5 475.3L1382.8 475.4L1380.2 475.4L1377.5 475.5L1374.9 475.6L1372.2 475.7L1369.6 475.8L1366.9 475.9L1364.3 476L1361.6 476.1L1359 476.2L1356.3 476.3L1353.7 476.4L1351 476.5L1348.3 476.7L1345.7 476.8L1343 476.9L1340.4 477.1L1337.7 477.2L1335.1 477.3L1332.4 477.5L1329.8 477.7L1327.1 477.8L1324.5 478L1321.8 478.2L1319.2 478.4L1316.5 478.6L1313.9 478.8L1311.2 479L1308.6 479.2L1305.9 479.5L1303.2 479.7L1300.6 479.9L1297.9 480.2L1295.3 480.5L1292.6 480.7L1290 481L1287.3 481.4L1284.7 481.7L1282 482.1L1279.4 482.5L1276.7 482.9L1274.1 483.4L1271.4 483.9L1268.8 484.4L1266.1 484.9L1263.5 485.5L1260.8 486.1L1258.1 486.7L1255.5 487.2L1252.8 487.9L1250.2 488.5L1247.5 489.2L1244.9 489.9L1242.2 490.6L1239.6 491.4L1236.9 492.1L1234.3 492.9L1231.6 493.7L1229 494.6L1226.3 495.4L1223.7 496.3L1221 497.2L1218.4 498.2L1215.7 499.2L1213 500.2L1210.4 501.3L1207.7 502.4L1205.1 503.5L1202.4 504.7L1199.8 505.9L1197.1 507.1L1194.5 508.4L1191.8 509.7L1189.2 511.1L1186.5 512.4L1183.9 513.9L1181.2 515.3L1178.6 516.8L1175.9 518.3L1173.3 519.8L1170.6 521.4L1168 522.9L1165.3 524.5L1162.6 526L1160 527.6L1157.3 529.1L1154.7 530.7L1152 532.2L1149.4 533.7L1146.7 535.1L1144.1 536.4L1141.4 537.7L1138.8 539L1136.1 540.2L1133.5 541.3L1130.8 542.4L1128.2 543.5L1125.5 544.5L1122.9 545.4L1120.2 546.3L1117.5 547.1L1114.9 548L1112.2 548.7L1109.6 549.3L1106.9 549.9L1104.3 550.4L1101.6 550.6L1099 550.7L1096.3 550.8L1093.7 550.9L1091 551L1088.4 551Z" class="bb"/>
<path d="M1088.4 508L1091 504.5L1093.7 500.9L1096.3 497.2L1099 493.2L1101.6 489L1104.3 484.5L1106.9 479.8L1109.6 474.9L1112.2 469.8L1114.9 464.4L1117.5 458.8L1120.2 453.1L1122.9 447.1L1125.5 440.9L1128.2 434.5L1130.8 427.9L1133.5 421.2L1136.1 414.3L1138.8 407.2L1141.4 400L1144.1 392.6L1146.7 385.1L1149.4 377.5L1152 369.8L1154.7 362L1157.3 354.1L1160 346.2L1162.6 338.1L1165.3 330.1L1168 322.1L1170.6 314L1173.3 306L1175.9 298L1178.6 290.1L1181.2 282.3L1183.9 274.6L1186.5 267L1189.2 259.6L1191.8 252.3L1194.5 245.2L1197.1 238.3L1199.8 231.6L1202.4 225.1L1205.1 218.9L1207.7 212.9L1210.4 207.2L1213 201.7L1215.7 196.6L1218.4 191.7L1221 187L1223.7 182.6L1226.3 178.4L1229 174.4L1231.6 170.6L1234.3 167L1236.9 163.6L1239.6 160.4L1242.2 157.3L1244.9 154.3L1247.5 151.5L1250.2 148.8L1252.8 146.2L1255.5 143.8L1258.1 141.4L1260.8 139.1L1263.5 137L1266.1 134.9L1268.8 132.9L1271.4 131L1274.1 129.1L1276.7 127.4L1279.4 125.7L1282 124.2L1284.7 122.7L1287.3 121.3L1290 119.9L1292.6 118.7L1295.3 117.5L1297.9 116.3L1300.6 115.3L1303.2 114.3L1305.9 113.3L1308.6 112.4L1311.2 111.6L1313.9 110.9L1316.5 110.2L1319.2 109.6L1321.8 109.1L1324.5 108.5L1327.1 108L1329.8 107.5L1332.4 107.1L1335.1 106.7L1337.7 106.3L1340.4 105.9L1343 105.6L1345.7 105.3L1348.3 105L1351 104.8L1353.7 104.5L1356.3 104.3L1359 104.1L1361.6 103.9L1364.3 103.7L1366.9 103.5L1369.6 103.4L1372.2 103.2L1374.9 103L1377.5 102.9L1380.2 102.7L1382.8 102.6L1385.5 102.4L1388.1 102.3L1390.8 102.2L1393.4 102L1396.1 101.9L1398.7 101.8L1401.4 101.7L1404.1 101.6L1406.7 101.4L1409.4 101.3L1412 101.2L1414.7 101.1L1417.3 101L1420 100.9L1422.6 100.7L1425.3 100.6L1427.9 100.5L1430.6 100.4L1433.2 100.3L1435.9 100.2L1438.5 100.2L1441.2 100.1L1443.8 100L1446.5 99.9L1449.2 99.9L1451.8 99.8L1454.5 99.8L1457.1 99.7L1459.8 99.7L1462.4 99.6L1465.1 99.6L1467.7 99.5L1470.4 99.5L1473 99.4L1475.7 99.4L1478.3 99.3L1481 99.3L1483.6 99.3L1486.3 99.2L1488.9 99.2L1491.6 99.2L1494.3 99.1L1496.9 99.1L1499.6 99.1L1502.2 99L1504.9 99L1507.5 99L1510.2 98.9L1512.8 98.9L1515.5 98.9L1518.1 98.9L1520.8 98.9L1523.4 98.8L1526.1 98.8L1528.7 98.8L1531.4 98.8L1534 98.8L1536.7 98.7L1539.4 98.7L1542 98.7L1544.7 98.7L1547.3 98.7L1550 98.6L1552.6 98.6L1555.3 98.6L1557.9 98.6L1560.6 98.6L1563.2 98.6L1565.9 98.6L1568.5 98.5L1571.2 98.5L1573.8 98.5L1576.5 98.5L1579.1 98.5L1581.8 98.5L1584.5 98.5L1587.1 98.5L1589.8 98.5L1592.4 98.5L1595.1 98.5L1597.7 98.5L1600.4 98.5L1603 98.4L1605.7 98.4L1608.3 98.4L1611 98.4L1613.6 98.4L1616.3 98.4L1618.9 98.4L1621.6 98.4L1624.2 98.4L1626.9 98.4L1629.5 98.4L1632.2 98.4L1634.9 98.4L1637.5 98.4L1640.2 98.4L1642.8 98.4L1645.5 98.4L1648.1 98.4L1650.8 98.4L1653.4 98.3L1656.1 98.3L1658.7 98.3L1661.4 98.3L1664 98.3L1666.7 98.3L1669.3 98.3L1672 98.3L1674.6 98.3L1677.3 98.3L1680 98.3L1682.6 98.3L1685.3 98.3L1687.9 98.3L1690.6 98.3L1693.2 98.3L1695.9 98.3L1698.5 98.3L1701.2 98.3L1703.8 98.3L1706.5 98.3L1709.1 98.3L1711.8 98.3L1714.4 98.3L1717.1 98.3L1719.7 98.3L1722.4 98.3" class="rd"/>
<path d="M1088.4 551L1091 550.9L1093.7 550.7L1096.3 550.5L1099 550.1L1101.6 549.4L1104.3 548.7L1106.9 547.9L1109.6 546.9L1112.2 545.8L1114.9 544.6L1117.5 543.2L1120.2 541.7L1122.9 540.2L1125.5 538.5L1128.2 536.7L1130.8 534.9L1133.5 533.1L1136.1 531.2L1138.8 529.3L1141.4 527.3L1144.1 525.4L1146.7 523.3L1149.4 521.2L1152 519L1154.7 516.8L1157.3 514.6L1160 512.4L1162.6 510.2L1165.3 508L1168 505.7L1170.6 503.6L1173.3 501.5L1175.9 499.6L1178.6 497.7L1181.2 495.8L1183.9 494L1186.5 492.4L1189.2 490.8L1191.8 489.3L1194.5 487.8L1197.1 486.4L1199.8 485.1L1202.4 483.9L1205.1 482.7L1207.7 481.6L1210.4 480.5L1213 479.4L1215.7 478.4L1218.4 477.5L1221 476.6L1223.7 475.7L1226.3 474.8L1229 474L1231.6 473.2L1234.3 472.4L1236.9 471.7L1239.6 470.9L1242.2 470.2L1244.9 469.4L1247.5 468.7L1250.2 467.9L1252.8 467.2L1255.5 466.6L1258.1 466L1260.8 465.4L1263.5 464.9L1266.1 464.3L1268.8 463.8L1271.4 463.3L1274.1 462.8L1276.7 462.4L1279.4 462L1282 461.6L1284.7 461.2L1287.3 460.9L1290 460.6L1292.6 460.3L1295.3 460.1L1297.9 459.8L1300.6 459.6L1303.2 459.3L1305.9 459.1L1308.6 458.9L1311.2 458.7L1313.9 458.5L1316.5 458.3L1319.2 458.1L1321.8 457.9L1324.5 457.7L1327.1 457.6L1329.8 457.4L1332.4 457.2L1335.1 457.1L1337.7 456.9L1340.4 456.8L1343 456.7L1345.7 456.5L1348.3 456.4L1351 456.3L1353.7 456.2L1356.3 456.1L1359 456L1361.6 455.9L1364.3 455.8L1366.9 455.7L1369.6 455.6L1372.2 455.5L1374.9 455.5L1377.5 455.4L1380.2 455.3L1382.8 455.2L1385.5 455.2L1388.1 455.1L1390.8 455L1393.4 455L1396.1 454.9L1398.7 454.8L1401.4 454.8L1404.1 454.7L1406.7 454.6L1409.4 454.6L1412 454.6L1414.7 454.5L1417.3 454.5L1420 454.5L1422.6 454.5L1425.3 454.5L1427.9 454.5L1430.6 454.5L1433.2 454.5L1435.9 454.4L1438.5 454.4L1441.2 454.4L1443.8 454.4L1446.5 454.4L1449.2 454.4L1451.8 454.4L1454.5 454.4L1457.1 454.4L1459.8 454.4L1462.4 454.4L1465.1 454.4L1467.7 454.4L1470.4 454.4L1473 454.4L1475.7 454.4L1478.3 454.4L1481 454.4L1483.6 454.4L1486.3 454.4L1488.9 454.4L1491.6 454.4L1494.3 454.4L1496.9 454.4L1499.6 454.4L1502.2 454.4L1504.9 454.4L1507.5 454.4L1510.2 454.4L1512.8 454.4L1515.5 454.3L1518.1 454.3L1520.8 454.3L1523.4 454.3L1526.1 454.3L1528.7 454.3L1531.4 454.3L1534 454.3L1536.7 454.3L1539.4 454.3L1542 454.3L1544.7 454.3L1547.3 454.3L1550 454.3L1552.6 454.3L1555.3 454.3L1557.9 454.3L1560.6 454.3L1563.2 454.3L1565.9 454.3L1568.5 454.3L1571.2 454.3L1573.8 454.3L1576.5 454.3L1579.1 454.3L1581.8 454.3L1584.5 454.3L1587.1 454.3L1589.8 454.3L1592.4 454.3L1595.1 454.3L1597.7 454.3L1600.4 454.3L1603 454.3L1605.7 454.3L1608.3 454.3L1611 454.3L1613.6 454.3L1616.3 454.3L1618.9 454.3L1621.6 454.3L1624.2 454.3L1626.9 454.3L1629.5 454.3L1632.2 454.3L1634.9 454.3L1637.5 454.3L1640.2 454.3L1642.8 454.3L1645.5 454.3L1648.1 454.3L1650.8 454.3L1653.4 454.3L1656.1 454.3L1658.7 454.3L1661.4 454.3L1664 454.3L1666.7 454.3L1669.3 454.3L1672 454.3L1674.6 454.3L1677.3 454.3L1680 454.3L1682.6 454.3L1685.3 454.3L1687.9 454.3L1690.6 454.3L1693.2 454.3L1695.9 454.3L1698.5 454.3L1701.2 454.3L1703.8 454.3L1706.5 454.3L1709.1 454.3L1711.8 454.3L1714.4 454.3L1717.1 454.3L1719.7 454.3L1722.4 454.3" class="bl"/>
</g>
<path d="M1037.4 551v-7M1037.4 50.6v7M1174.4 551v-7M1174.4 50.6v7M1311.4 551v-7M1311.4 50.6v7M1448.4 551v-7M1448.4 50.6v7M1585.4 551v-7M1585.4 50.6v7M1722.4 551v-7M1722.4 50.6v7M1037.4 551h7M1724 551h-7M1037.4 450.9h7M1724 450.9h-7M1037.4 350.8h7M1724 350.8h-7M1037.4 250.8h7M1724 250.8h-7M1037.4 150.7h7M1724 150.7h-7M1037.4 50.6h7M1724 50.6h-7" class="tk"/>
<rect x="1037.4" y="50.6" width="686.6" height="500.4" class="bx"/>
<text transform="translate(1037.4 596.3) scale(0.915 1)" font-size="41.5" class="s" text-anchor="middle">0</text>
<text transform="translate(1175.4 596.3) scale(0.915 1)" font-size="41.5" class="s" text-anchor="middle">50</text>
<text transform="translate(1312.4 596.3) scale(0.915 1)" font-size="41.5" class="s" text-anchor="middle">100</text>
<text transform="translate(1449.4 596.3) scale(0.915 1)" font-size="41.5" class="s" text-anchor="middle">150</text>
<text transform="translate(1586.4 596.3) scale(0.915 1)" font-size="41.5" class="s" text-anchor="middle">200</text>
<text transform="translate(1723.4 596.3) scale(0.915 1)" font-size="41.5" class="s" text-anchor="middle">250</text>
<text transform="translate(1023.5 561.9) scale(0.915 1)" font-size="41.5" class="s" text-anchor="end">0</text>
<text transform="translate(1023.5 461.8) scale(0.915 1)" font-size="41.5" class="s" text-anchor="end">20</text>
<text transform="translate(1023.5 361.7) scale(0.915 1)" font-size="41.5" class="s" text-anchor="end">40</text>
<text transform="translate(1023.5 261.7) scale(0.915 1)" font-size="41.5" class="s" text-anchor="end">60</text>
<text transform="translate(1023.5 161.6) scale(0.915 1)" font-size="41.5" class="s" text-anchor="end">80</text>
<text transform="translate(1023.5 61.5) scale(0.915 1)" font-size="41.5" class="s" text-anchor="end">100</text>
<text x="1381" y="29.4" font-size="42.5" class="s" text-anchor="middle" textLength="85" lengthAdjust="spacingAndGlyphs">Italy</text>
<g transform="translate(1246.5 648)" class="s" font-size="42.5"><text x="0" textLength="93" lengthAdjust="spacingAndGlyphs">Time</text><text x="112.3" textLength="47.2" lengthAdjust="spacingAndGlyphs">(in</text><text x="175.9" textLength="93.4" lengthAdjust="spacingAndGlyphs">days)</text></g>
<g transform="translate(946.3 545.1) rotate(-90)" class="s" font-size="42.5"><text x="0" textLength="142.8" lengthAdjust="spacingAndGlyphs">Infected</text><text x="160.5" textLength="47" lengthAdjust="spacingAndGlyphs">(in</text><text x="229.1" textLength="31.1" lengthAdjust="spacingAndGlyphs">%</text><text x="280.1" textLength="209.1" lengthAdjust="spacingAndGlyphs">population)</text></g>
<rect x="1430.1" y="202.7" width="257.4" height="162.5" class="lg"/>
<path d="M1436.2 224.1H1500" class="rd" style="stroke-dasharray:7.8 8.6"/>
<rect x="1436" y="250.1" width="64.6" height="28.8" class="pb"/>
<path d="M1436.2 303.4H1500.2" class="bl"/>
<rect x="1436" y="328.3" width="64.6" height="29.6" class="bb"/>
<text x="1505.9" y="231.4" class="s" font-size="33.5" font-style="italic" textLength="21.7" lengthAdjust="spacingAndGlyphs">w</text>
<text x="1528.6" y="236.9" class="s" font-size="24" font-style="italic" textLength="20" lengthAdjust="spacingAndGlyphs">m</text>
<text x="1552" y="231.4" class="s" font-size="33.5" textLength="30.8" lengthAdjust="spacingAndGlyphs">(<tspan font-style="italic">t</tspan>)</text>
<g transform="translate(1505.9 271.1)" class="s" font-size="32.5"><text x="0" textLength="40.1" lengthAdjust="spacingAndGlyphs">2%</text><text x="53.2" textLength="51.7" lengthAdjust="spacingAndGlyphs">par.</text><text x="123.1" textLength="49.8" lengthAdjust="spacingAndGlyphs">var.</text></g>
<text x="1505.9" y="310.3" class="s" font-size="33.5" font-style="italic" textLength="21.7" lengthAdjust="spacingAndGlyphs">w</text>
<text x="1532" y="310.3" class="s" font-size="33.5" textLength="30.8" lengthAdjust="spacingAndGlyphs">(<tspan font-style="italic">t</tspan>)</text>
<g transform="translate(1505.9 349.6)" class="s" font-size="32.5"><text x="0" textLength="40.1" lengthAdjust="spacingAndGlyphs">2%</text><text x="53.2" textLength="51.7" lengthAdjust="spacingAndGlyphs">par.</text><text x="123.1" textLength="49.8" lengthAdjust="spacingAndGlyphs">var.</text></g>
<clipPath id="k1"><rect x="145.2" y="815" width="534.1" height="461.4"/></clipPath>
<g clip-path="url(#k1)">
<rect x="145" y="815" width="535" height="2" fill="url(#g2)"/>
<rect x="145" y="817" width="535" height="2" fill="url(#g3)"/>
<rect x="145" y="819" width="535" height="2" fill="url(#g4)"/>
<rect x="145" y="821" width="535" height="2" fill="url(#g5)"/>
<rect x="145" y="823" width="535" height="2" fill="url(#g6)"/>
<rect x="145" y="825" width="535" height="2" fill="url(#g7)"/>
<rect x="145" y="827" width="535" height="2" fill="url(#g8)"/>
<rect x="145" y="829" width="535" height="2" fill="url(#g9)"/>
<rect x="145" y="831" width="535" height="2" fill="url(#g10)"/>
<rect x="145" y="833" width="535" height="2" fill="url(#g11)"/>
<rect x="145" y="835" width="535" height="2" fill="url(#g12)"/>
<rect x="145" y="837" width="535" height="2" fill="url(#g13)"/>
<rect x="145" y="839" width="535" height="2" fill="url(#g14)"/>
<rect x="145" y="841" width="535" height="2" fill="url(#g15)"/>
<rect x="145" y="843" width="535" height="2" fill="url(#g16)"/>
<rect x="145" y="845" width="535" height="2" fill="url(#g17)"/>
<rect x="145" y="847" width="535" height="2" fill="url(#g18)"/>
<rect x="145" y="849" width="535" height="2" fill="url(#g19)"/>
<rect x="145" y="851" width="535" height="2" fill="url(#g20)"/>
<rect x="145" y="853" width="535" height="2" fill="url(#g21)"/>
<rect x="145" y="855" width="535" height="2" fill="url(#g22)"/>
<rect x="145" y="857" width="535" height="2" fill="url(#g23)"/>
<rect x="145" y="859" width="535" height="2" fill="url(#g24)"/>
<rect x="145" y="861" width="535" height="2" fill="url(#g25)"/>
<rect x="145" y="863" width="535" height="2" fill="url(#g26)"/>
<rect x="145" y="865" width="535" height="2" fill="url(#g27)"/>
<rect x="145" y="867" width="535" height="2" fill="url(#g28)"/>
<rect x="145" y="869" width="535" height="2" fill="url(#g29)"/>
<rect x="145" y="871" width="535" height="2" fill="url(#g30)"/>
<rect x="145" y="873" width="535" height="2" fill="url(#g31)"/>
<rect x="145" y="875" width="535" height="2" fill="url(#g32)"/>
<rect x="145" y="877" width="535" height="2" fill="url(#g33)"/>
<rect x="145" y="879" width="535" height="2" fill="url(#g34)"/>
<rect x="145" y="881" width="535" height="2" fill="url(#g35)"/>
<rect x="145" y="883" width="535" height="2" fill="url(#g36)"/>
<rect x="145" y="885" width="535" height="2" fill="url(#g37)"/>
<rect x="145" y="887" width="535" height="2" fill="url(#g38)"/>
<rect x="145" y="889" width="535" height="2" fill="url(#g39)"/>
<rect x="145" y="891" width="535" height="2" fill="url(#g40)"/>
<rect x="145" y="893" width="535" height="2" fill="url(#g41)"/>
<rect x="145" y="895" width="535" height="2" fill="url(#g42)"/>
<rect x="145" y="897" width="535" height="2" fill="url(#g43)"/>
<rect x="145" y="899" width="535" height="2" fill="url(#g44)"/>
<rect x="145" y="901" width="535" height="2" fill="url(#g45)"/>
<rect x="145" y="903" width="535" height="2" fill="url(#g46)"/>
<rect x="145" y="905" width="535" height="2" fill="url(#g47)"/>
<rect x="145" y="907" width="535" height="2" fill="url(#g48)"/>
<rect x="145" y="909" width="535" height="2" fill="url(#g49)"/>
<rect x="145" y="911" width="535" height="2" fill="url(#g50)"/>
<rect x="145" y="913" width="535" height="2" fill="url(#g51)"/>
<rect x="145" y="915" width="535" height="2" fill="url(#g52)"/>
<rect x="145" y="917" width="535" height="2" fill="url(#g53)"/>
<rect x="145" y="919" width="535" height="2" fill="url(#g54)"/>
<rect x="145" y="921" width="535" height="2" fill="url(#g55)"/>
<rect x="145" y="923" width="535" height="2" fill="url(#g56)"/>
<rect x="145" y="925" width="535" height="2" fill="url(#g57)"/>
<rect x="145" y="927" width="535" height="2" fill="url(#g58)"/>
<rect x="145" y="929" width="535" height="2" fill="url(#g59)"/>
<rect x="145" y="931" width="535" height="2" fill="url(#g60)"/>
<rect x="145" y="933" width="535" height="2" fill="url(#g61)"/>
<rect x="145" y="935" width="535" height="2" fill="url(#g62)"/>
<rect x="145" y="937" width="535" height="2" fill="url(#g63)"/>
<rect x="145" y="939" width="535" height="2" fill="url(#g64)"/>
<rect x="145" y="941" width="535" height="2" fill="url(#g65)"/>
<rect x="145" y="943" width="535" height="2" fill="url(#g66)"/>
<rect x="145" y="945" width="535" height="2" fill="url(#g67)"/>
<rect x="145" y="947" width="535" height="2" fill="url(#g68)"/>
<rect x="145" y="949" width="535" height="2" fill="url(#g69)"/>
<rect x="145" y="951" width="535" height="2" fill="url(#g70)"/>
<rect x="145" y="953" width="535" height="2" fill="url(#g71)"/>
<rect x="145" y="955" width="535" height="2" fill="url(#g72)"/>
<rect x="145" y="957" width="535" height="2" fill="url(#g73)"/>
<rect x="145" y="959" width="535" height="2" fill="url(#g74)"/>
<rect x="145" y="961" width="535" height="2" fill="url(#g75)"/>
<rect x="145" y="963" width="535" height="2" fill="url(#g76)"/>
<rect x="145" y="965" width="535" height="2" fill="url(#g77)"/>
<rect x="145" y="967" width="535" height="2" fill="url(#g78)"/>
<rect x="145" y="969" width="535" height="2" fill="url(#g79)"/>
<rect x="145" y="971" width="535" height="2" fill="url(#g80)"/>
<rect x="145" y="973" width="535" height="2" fill="url(#g81)"/>
<rect x="145" y="975" width="535" height="2" fill="url(#g82)"/>
<rect x="145" y="977" width="535" height="2" fill="url(#g83)"/>
<rect x="145" y="979" width="535" height="2" fill="url(#g84)"/>
<rect x="145" y="981" width="535" height="2" fill="url(#g85)"/>
<rect x="145" y="983" width="535" height="2" fill="url(#g86)"/>
<rect x="145" y="985" width="535" height="2" fill="url(#g87)"/>
<rect x="145" y="987" width="535" height="2" fill="url(#g88)"/>
<rect x="145" y="989" width="535" height="2" fill="url(#g89)"/>
<rect x="145" y="991" width="535" height="2" fill="url(#g90)"/>
<rect x="145" y="993" width="535" height="2" fill="url(#g91)"/>
<rect x="145" y="995" width="535" height="2" fill="url(#g92)"/>
<rect x="145" y="997" width="535" height="2" fill="url(#g93)"/>
<rect x="145" y="999" width="535" height="2" fill="url(#g94)"/>
<rect x="145" y="1001" width="535" height="2" fill="url(#g95)"/>
<rect x="145" y="1003" width="535" height="2" fill="url(#g96)"/>
<rect x="145" y="1005" width="535" height="2" fill="url(#g97)"/>
<rect x="145" y="1007" width="535" height="2" fill="url(#g98)"/>
<rect x="145" y="1009" width="535" height="2" fill="url(#g99)"/>
<rect x="145" y="1011" width="535" height="2" fill="url(#g100)"/>
<rect x="145" y="1013" width="535" height="2" fill="url(#g101)"/>
<rect x="145" y="1015" width="535" height="2" fill="url(#g102)"/>
<rect x="145" y="1017" width="535" height="2" fill="url(#g103)"/>
<rect x="145" y="1019" width="535" height="2" fill="url(#g104)"/>
<rect x="145" y="1021" width="535" height="2" fill="url(#g105)"/>
<rect x="145" y="1023" width="535" height="2" fill="url(#g106)"/>
<rect x="145" y="1025" width="535" height="2" fill="url(#g107)"/>
<rect x="145" y="1027" width="535" height="2" fill="url(#g108)"/>
<rect x="145" y="1029" width="535" height="2" fill="url(#g109)"/>
<rect x="145" y="1031" width="535" height="2" fill="url(#g110)"/>
<rect x="145" y="1033" width="535" height="2" fill="url(#g111)"/>
<rect x="145" y="1035" width="535" height="2" fill="url(#g112)"/>
<rect x="145" y="1037" width="535" height="2" fill="url(#g113)"/>
<rect x="145" y="1039" width="535" height="2" fill="url(#g114)"/>
<rect x="145" y="1041" width="535" height="2" fill="url(#g115)"/>
<rect x="145" y="1043" width="535" height="2" fill="url(#g116)"/>
<rect x="145" y="1045" width="535" height="2" fill="url(#g117)"/>
<rect x="145" y="1047" width="535" height="2" fill="url(#g118)"/>
<rect x="145" y="1049" width="535" height="2" fill="url(#g119)"/>
<rect x="145" y="1051" width="535" height="2" fill="url(#g120)"/>
<rect x="145" y="1053" width="535" height="2" fill="url(#g121)"/>
<rect x="145" y="1055" width="535" height="2" fill="url(#g122)"/>
<rect x="145" y="1057" width="535" height="2" fill="url(#g123)"/>
<rect x="145" y="1059" width="535" height="2" fill="url(#g124)"/>
<rect x="145" y="1061" width="535" height="2" fill="url(#g125)"/>
<rect x="145" y="1063" width="535" height="2" fill="url(#g126)"/>
<rect x="145" y="1065" width="535" height="2" fill="url(#g127)"/>
<rect x="145" y="1067" width="535" height="2" fill="url(#g128)"/>
<rect x="145" y="1069" width="535" height="2" fill="url(#g129)"/>
<rect x="145" y="1071" width="535" height="2" fill="url(#g130)"/>
<rect x="145" y="1073" width="535" height="2" fill="url(#g131)"/>
<rect x="145" y="1075" width="535" height="2" fill="url(#g132)"/>
<rect x="145" y="1077" width="535" height="2" fill="url(#g133)"/>
<rect x="145" y="1079" width="535" height="2" fill="url(#g134)"/>
<rect x="145" y="1081" width="535" height="2" fill="url(#g135)"/>
<rect x="145" y="1083" width="535" height="2" fill="url(#g136)"/>
<rect x="145" y="1085" width="535" height="2" fill="url(#g137)"/>
<rect x="145" y="1087" width="535" height="2" fill="url(#g138)"/>
<rect x="145" y="1089" width="535" height="2" fill="url(#g139)"/>
<rect x="145" y="1091" width="535" height="2" fill="url(#g140)"/>
<rect x="145" y="1093" width="535" height="2" fill="url(#g141)"/>
<rect x="145" y="1095" width="535" height="2" fill="url(#g142)"/>
<rect x="145" y="1097" width="535" height="2" fill="url(#g143)"/>
<rect x="145" y="1099" width="535" height="2" fill="url(#g144)"/>
<rect x="145" y="1101" width="535" height="2" fill="url(#g145)"/>
<rect x="145" y="1103" width="535" height="2" fill="url(#g146)"/>
<rect x="145" y="1105" width="535" height="2" fill="url(#g147)"/>
<rect x="145" y="1107" width="535" height="2" fill="url(#g148)"/>
<rect x="145" y="1109" width="535" height="2" fill="url(#g149)"/>
<rect x="145" y="1111" width="535" height="2" fill="url(#g150)"/>
<rect x="145" y="1113" width="535" height="2" fill="url(#g151)"/>
<rect x="145" y="1115" width="535" height="2" fill="url(#g152)"/>
<rect x="145" y="1117" width="535" height="2" fill="url(#g153)"/>
<rect x="145" y="1119" width="535" height="2" fill="url(#g154)"/>
<rect x="145" y="1121" width="535" height="2" fill="url(#g155)"/>
<rect x="145" y="1123" width="535" height="2" fill="url(#g156)"/>
<rect x="145" y="1125" width="535" height="2" fill="url(#g157)"/>
<rect x="145" y="1127" width="535" height="2" fill="url(#g158)"/>
<rect x="145" y="1129" width="535" height="2" fill="url(#g159)"/>
<rect x="145" y="1131" width="535" height="2" fill="url(#g160)"/>
<rect x="145" y="1133" width="535" height="2" fill="url(#g161)"/>
<rect x="145" y="1135" width="535" height="2" fill="url(#g162)"/>
<rect x="145" y="1137" width="535" height="2" fill="url(#g163)"/>
<rect x="145" y="1139" width="535" height="2" fill="url(#g164)"/>
<rect x="145" y="1141" width="535" height="2" fill="url(#g165)"/>
<rect x="145" y="1143" width="535" height="2" fill="url(#g166)"/>
<rect x="145" y="1145" width="535" height="2" fill="url(#g167)"/>
<rect x="145" y="1147" width="535" height="2" fill="url(#g168)"/>
<rect x="145" y="1149" width="535" height="2" fill="url(#g169)"/>
<rect x="145" y="1151" width="535" height="2" fill="url(#g170)"/>
<rect x="145" y="1153" width="535" height="2" fill="url(#g171)"/>
<rect x="145" y="1155" width="535" height="2" fill="url(#g172)"/>
<rect x="145" y="1157" width="535" height="2" fill="url(#g173)"/>
<rect x="145" y="1159" width="535" height="2" fill="url(#g174)"/>
<rect x="145" y="1161" width="535" height="2" fill="url(#g175)"/>
<rect x="145" y="1163" width="535" height="2" fill="url(#g176)"/>
<rect x="145" y="1165" width="535" height="2" fill="url(#g177)"/>
<rect x="145" y="1167" width="535" height="2" fill="url(#g178)"/>
<rect x="145" y="1169" width="535" height="2" fill="url(#g179)"/>
<rect x="145" y="1171" width="535" height="2" fill="url(#g180)"/>
<rect x="145" y="1173" width="535" height="2" fill="url(#g181)"/>
<rect x="145" y="1175" width="535" height="2" fill="url(#g182)"/>
<rect x="145" y="1177" width="535" height="2" fill="url(#g183)"/>
<rect x="145" y="1179" width="535" height="2" fill="url(#g184)"/>
<rect x="145" y="1181" width="535" height="2" fill="url(#g185)"/>
<rect x="145" y="1183" width="535" height="2" fill="url(#g186)"/>
<rect x="145" y="1185" width="535" height="2" fill="url(#g187)"/>
<rect x="145" y="1187" width="535" height="2" fill="url(#g188)"/>
<rect x="145" y="1189" width="535" height="2" fill="url(#g189)"/>
<rect x="145" y="1191" width="535" height="2" fill="url(#g190)"/>
<rect x="145" y="1193" width="535" height="2" fill="url(#g191)"/>
<rect x="145" y="1195" width="535" height="2" fill="url(#g192)"/>
<rect x="145" y="1197" width="535" height="2" fill="url(#g193)"/>
<rect x="145" y="1199" width="535" height="2" fill="url(#g194)"/>
<rect x="145" y="1201" width="535" height="2" fill="url(#g195)"/>
<rect x="145" y="1203" width="535" height="2" fill="url(#g196)"/>
<rect x="145" y="1205" width="535" height="2" fill="url(#g197)"/>
<rect x="145" y="1207" width="535" height="2" fill="url(#g198)"/>
<rect x="145" y="1209" width="535" height="2" fill="url(#g199)"/>
<rect x="145" y="1211" width="535" height="2" fill="url(#g200)"/>
<rect x="145" y="1213" width="535" height="2" fill="url(#g201)"/>
<rect x="145" y="1215" width="535" height="2" fill="url(#g202)"/>
<rect x="145" y="1217" width="535" height="2" fill="url(#g203)"/>
<rect x="145" y="1219" width="535" height="2" fill="url(#g204)"/>
<rect x="145" y="1221" width="535" height="2" fill="url(#g205)"/>
<rect x="145" y="1223" width="535" height="2" fill="url(#g206)"/>
<rect x="145" y="1225" width="535" height="2" fill="url(#g207)"/>
<rect x="145" y="1227" width="535" height="2" fill="url(#g208)"/>
<rect x="145" y="1229" width="535" height="2" fill="url(#g209)"/>
<rect x="145" y="1231" width="535" height="2" fill="url(#g210)"/>
<rect x="145" y="1233" width="535" height="2" fill="url(#g211)"/>
<rect x="145" y="1235" width="535" height="2" fill="url(#g212)"/>
<rect x="145" y="1237" width="535" height="2" fill="url(#g213)"/>
<rect x="145" y="1239" width="535" height="2" fill="url(#g214)"/>
<rect x="145" y="1241" width="535" height="2" fill="url(#g215)"/>
<rect x="145" y="1243" width="535" height="2" fill="url(#g216)"/>
<rect x="145" y="1245" width="535" height="2" fill="url(#g217)"/>
<rect x="145" y="1247" width="535" height="2" fill="url(#g218)"/>
<rect x="145" y="1249" width="535" height="2" fill="url(#g219)"/>
<rect x="145" y="1251" width="535" height="2" fill="url(#g220)"/>
<rect x="145" y="1253" width="535" height="2" fill="url(#g221)"/>
<rect x="145" y="1255" width="535" height="2" fill="url(#g222)"/>
<rect x="145" y="1257" width="535" height="2" fill="url(#g223)"/>
<rect x="145" y="1259" width="535" height="2" fill="url(#g224)"/>
<rect x="145" y="1261" width="535" height="2" fill="url(#g225)"/>
<rect x="145" y="1263" width="535" height="2" fill="url(#g226)"/>
<rect x="145" y="1265" width="535" height="2" fill="url(#g227)"/>
<rect x="145" y="1267" width="535" height="2" fill="url(#g228)"/>
<rect x="145" y="1269" width="535" height="2" fill="url(#g229)"/>
<rect x="145" y="1271" width="535" height="2" fill="url(#g230)"/>
<rect x="145" y="1273" width="535" height="2" fill="url(#g231)"/>
<rect x="145" y="1275" width="535" height="2" fill="url(#g232)"/>
</g>
<text transform="translate(130.5 1293.8) scale(0.930 1)" font-size="46.4" class="a" text-anchor="end">1</text>
<text transform="translate(130.5 1151.8) scale(0.930 1)" font-size="46.4" class="a" text-anchor="end">5</text>
<text transform="translate(130.5 1009.9) scale(0.930 1)" font-size="46.4" class="a" text-anchor="end">9</text>
<text transform="translate(130.5 867.9) scale(0.930 1)" font-size="46.4" class="a" text-anchor="end">13</text>
<text transform="translate(145 1333) scale(0.930 1)" font-size="46.4" class="a" text-anchor="middle">0.005</text>
<text transform="translate(412 1333) scale(0.930 1)" font-size="46.4" class="a" text-anchor="middle">0.01</text>
<text transform="translate(679.3 1333) scale(0.930 1)" font-size="46.4" class="a" text-anchor="middle">0.015</text>
<text x="412.1" y="791.3" font-size="48.3" class="s" text-anchor="middle" textLength="96.5" lengthAdjust="spacingAndGlyphs">Italy</text>
<path d="M145.2 881.7H679.3" stroke="#fff" stroke-opacity=".07" stroke-width="1.2"/>
<path d="M145.2 1276.4H679.3" stroke="#262626" stroke-width="1"/>
<rect x="749.5" y="813.5" width="35" height="461.7" fill="url(#g233)"/>
<rect x="749.5" y="813.5" width="35" height="461.7" class="cb"/>
<text transform="translate(799 1154) scale(0.930 1)" font-size="42.4" class="a">50</text>
<text transform="translate(799 1014) scale(0.930 1)" font-size="42.4" class="a">100</text>
<text transform="translate(799 874) scale(0.930 1)" font-size="42.4" class="a">150</text>
<path d="M784.5 1138.8h-5M784.5 998.9h-5M784.5 858.9h-5" class="tk"/>
<text transform="translate(53.6 1080.1) rotate(-90) scale(1.360 1)" class="s" font-size="62.5" font-style="italic">τ</text>
<text transform="translate(64.4 1054.0) rotate(-90) scale(1.310 1)" class="s" font-size="45" font-style="italic">m</text>
<text transform="translate(377.8 1399.7)" class="s" font-size="61.5" font-style="italic">p</text>
<text transform="translate(405.9 1409.4) scale(1.270 1)" class="s" font-size="46" font-style="italic">m</text>
<clipPath id="k234"><rect x="1053.7" y="815" width="547.6" height="461.2"/></clipPath>
<g clip-path="url(#k234)">
<rect x="1053" y="815" width="549" height="2" fill="url(#g235)"/>
<rect x="1053" y="817" width="549" height="2" fill="url(#g236)"/>
<rect x="1053" y="819" width="549" height="2" fill="url(#g237)"/>
<rect x="1053" y="821" width="549" height="2" fill="url(#g238)"/>
<rect x="1053" y="823" width="549" height="2" fill="url(#g239)"/>
<rect x="1053" y="825" width="549" height="2" fill="url(#g240)"/>
<rect x="1053" y="827" width="549" height="2" fill="url(#g241)"/>
<rect x="1053" y="829" width="549" height="2" fill="url(#g242)"/>
<rect x="1053" y="831" width="549" height="2" fill="url(#g243)"/>
<rect x="1053" y="833" width="549" height="2" fill="url(#g244)"/>
<rect x="1053" y="835" width="549" height="2" fill="url(#g245)"/>
<rect x="1053" y="837" width="549" height="2" fill="url(#g246)"/>
<rect x="1053" y="839" width="549" height="2" fill="url(#g247)"/>
<rect x="1053" y="841" width="549" height="2" fill="url(#g248)"/>
<rect x="1053" y="843" width="549" height="2" fill="url(#g249)"/>
<rect x="1053" y="845" width="549" height="2" fill="url(#g250)"/>
<rect x="1053" y="847" width="549" height="2" fill="url(#g251)"/>
<rect x="1053" y="849" width="549" height="2" fill="url(#g252)"/>
<rect x="1053" y="851" width="549" height="2" fill="url(#g253)"/>
<rect x="1053" y="853" width="549" height="2" fill="url(#g254)"/>
<rect x="1053" y="855" width="549" height="2" fill="url(#g255)"/>
<rect x="1053" y="857" width="549" height="2" fill="url(#g256)"/>
<rect x="1053" y="859" width="549" height="2" fill="url(#g257)"/>
<rect x="1053" y="861" width="549" height="2" fill="url(#g258)"/>
<rect x="1053" y="863" width="549" height="2" fill="url(#g259)"/>
<rect x="1053" y="865" width="549" height="2" fill="url(#g260)"/>
<rect x="1053" y="867" width="549" height="2" fill="url(#g261)"/>
<rect x="1053" y="869" width="549" height="2" fill="url(#g262)"/>
<rect x="1053" y="871" width="549" height="2" fill="url(#g263)"/>
<rect x="1053" y="873" width="549" height="2" fill="url(#g264)"/>
<rect x="1053" y="875" width="549" height="2" fill="url(#g265)"/>
<rect x="1053" y="877" width="549" height="2" fill="url(#g266)"/>
<rect x="1053" y="879" width="549" height="2" fill="url(#g267)"/>
<rect x="1053" y="881" width="549" height="2" fill="url(#g268)"/>
<rect x="1053" y="883" width="549" height="2" fill="url(#g269)"/>
<rect x="1053" y="885" width="549" height="2" fill="url(#g270)"/>
<rect x="1053" y="887" width="549" height="2" fill="url(#g271)"/>
<rect x="1053" y="889" width="549" height="2" fill="url(#g272)"/>
<rect x="1053" y="891" width="549" height="2" fill="url(#g273)"/>
<rect x="1053" y="893" width="549" height="2" fill="url(#g274)"/>
<rect x="1053" y="895" width="549" height="2" fill="url(#g275)"/>
<rect x="1053" y="897" width="549" height="2" fill="url(#g276)"/>
<rect x="1053" y="899" width="549" height="2" fill="url(#g277)"/>
<rect x="1053" y="901" width="549" height="2" fill="url(#g278)"/>
<rect x="1053" y="903" width="549" height="2" fill="url(#g279)"/>
<rect x="1053" y="905" width="549" height="2" fill="url(#g280)"/>
<rect x="1053" y="907" width="549" height="2" fill="url(#g281)"/>
<rect x="1053" y="909" width="549" height="2" fill="url(#g282)"/>
<rect x="1053" y="911" width="549" height="2" fill="url(#g283)"/>
<rect x="1053" y="913" width="549" height="2" fill="url(#g284)"/>
<rect x="1053" y="915" width="549" height="2" fill="url(#g285)"/>
<rect x="1053" y="917" width="549" height="2" fill="url(#g286)"/>
<rect x="1053" y="919" width="549" height="2" fill="url(#g287)"/>
<rect x="1053" y="921" width="549" height="2" fill="url(#g288)"/>
<rect x="1053" y="923" width="549" height="2" fill="url(#g289)"/>
<rect x="1053" y="925" width="549" height="2" fill="url(#g290)"/>
<rect x="1053" y="927" width="549" height="2" fill="url(#g291)"/>
<rect x="1053" y="929" width="549" height="2" fill="url(#g292)"/>
<rect x="1053" y="931" width="549" height="2" fill="url(#g293)"/>
<rect x="1053" y="933" width="549" height="2" fill="url(#g294)"/>
<rect x="1053" y="935" width="549" height="2" fill="url(#g295)"/>
<rect x="1053" y="937" width="549" height="2" fill="url(#g296)"/>
<rect x="1053" y="939" width="549" height="2" fill="url(#g297)"/>
<rect x="1053" y="941" width="549" height="2" fill="url(#g298)"/>
<rect x="1053" y="943" width="549" height="2" fill="url(#g299)"/>
<rect x="1053" y="945" width="549" height="2" fill="url(#g300)"/>
<rect x="1053" y="947" width="549" height="2" fill="url(#g301)"/>
<rect x="1053" y="949" width="549" height="2" fill="url(#g302)"/>
<rect x="1053" y="951" width="549" height="2" fill="url(#g303)"/>
<rect x="1053" y="953" width="549" height="2" fill="url(#g304)"/>
<rect x="1053" y="955" width="549" height="2" fill="url(#g305)"/>
<rect x="1053" y="957" width="549" height="2" fill="url(#g306)"/>
<rect x="1053" y="959" width="549" height="2" fill="url(#g307)"/>
<rect x="1053" y="961" width="549" height="2" fill="url(#g308)"/>
<rect x="1053" y="963" width="549" height="2" fill="url(#g309)"/>
<rect x="1053" y="965" width="549" height="2" fill="url(#g310)"/>
<rect x="1053" y="967" width="549" height="2" fill="url(#g311)"/>
<rect x="1053" y="969" width="549" height="2" fill="url(#g312)"/>
<rect x="1053" y="971" width="549" height="2" fill="url(#g313)"/>
<rect x="1053" y="973" width="549" height="2" fill="url(#g314)"/>
<rect x="1053" y="975" width="549" height="2" fill="url(#g315)"/>
<rect x="1053" y="977" width="549" height="2" fill="url(#g316)"/>
<rect x="1053" y="979" width="549" height="2" fill="url(#g317)"/>
<rect x="1053" y="981" width="549" height="2" fill="url(#g318)"/>
<rect x="1053" y="983" width="549" height="2" fill="url(#g319)"/>
<rect x="1053" y="985" width="549" height="2" fill="url(#g320)"/>
<rect x="1053" y="987" width="549" height="2" fill="url(#g321)"/>
<rect x="1053" y="989" width="549" height="2" fill="url(#g322)"/>
<rect x="1053" y="991" width="549" height="2" fill="url(#g323)"/>
<rect x="1053" y="993" width="549" height="2" fill="url(#g324)"/>
<rect x="1053" y="995" width="549" height="2" fill="url(#g325)"/>
<rect x="1053" y="997" width="549" height="2" fill="url(#g326)"/>
<rect x="1053" y="999" width="549" height="2" fill="url(#g327)"/>
<rect x="1053" y="1001" width="549" height="2" fill="url(#g328)"/>
<rect x="1053" y="1003" width="549" height="2" fill="url(#g329)"/>
<rect x="1053" y="1005" width="549" height="2" fill="url(#g330)"/>
<rect x="1053" y="1007" width="549" height="2" fill="url(#g331)"/>
<rect x="1053" y="1009" width="549" height="2" fill="url(#g332)"/>
<rect x="1053" y="1011" width="549" height="2" fill="url(#g333)"/>
<rect x="1053" y="1013" width="549" height="2" fill="url(#g334)"/>
<rect x="1053" y="1015" width="549" height="2" fill="url(#g335)"/>
<rect x="1053" y="1017" width="549" height="2" fill="url(#g336)"/>
<rect x="1053" y="1019" width="549" height="2" fill="url(#g337)"/>
<rect x="1053" y="1021" width="549" height="2" fill="url(#g338)"/>
<rect x="1053" y="1023" width="549" height="2" fill="url(#g339)"/>
<rect x="1053" y="1025" width="549" height="2" fill="url(#g340)"/>
<rect x="1053" y="1027" width="549" height="2" fill="url(#g341)"/>
<rect x="1053" y="1029" width="549" height="2" fill="url(#g342)"/>
<rect x="1053" y="1031" width="549" height="2" fill="url(#g343)"/>
<rect x="1053" y="1033" width="549" height="2" fill="url(#g344)"/>
<rect x="1053" y="1035" width="549" height="2" fill="url(#g345)"/>
<rect x="1053" y="1037" width="549" height="2" fill="url(#g346)"/>
<rect x="1053" y="1039" width="549" height="2" fill="url(#g347)"/>
<rect x="1053" y="1041" width="549" height="2" fill="url(#g348)"/>
<rect x="1053" y="1043" width="549" height="2" fill="url(#g349)"/>
<rect x="1053" y="1045" width="549" height="2" fill="url(#g350)"/>
<rect x="1053" y="1047" width="549" height="2" fill="url(#g351)"/>
<rect x="1053" y="1049" width="549" height="2" fill="url(#g352)"/>
<rect x="1053" y="1051" width="549" height="2" fill="url(#g353)"/>
<rect x="1053" y="1053" width="549" height="2" fill="url(#g354)"/>
<rect x="1053" y="1055" width="549" height="2" fill="url(#g355)"/>
<rect x="1053" y="1057" width="549" height="2" fill="url(#g356)"/>
<rect x="1053" y="1059" width="549" height="2" fill="url(#g357)"/>
<rect x="1053" y="1061" width="549" height="2" fill="url(#g358)"/>
<rect x="1053" y="1063" width="549" height="2" fill="url(#g359)"/>
<rect x="1053" y="1065" width="549" height="2" fill="url(#g360)"/>
<rect x="1053" y="1067" width="549" height="2" fill="url(#g361)"/>
<rect x="1053" y="1069" width="549" height="2" fill="url(#g362)"/>
<rect x="1053" y="1071" width="549" height="2" fill="url(#g363)"/>
<rect x="1053" y="1073" width="549" height="2" fill="url(#g364)"/>
<rect x="1053" y="1075" width="549" height="2" fill="url(#g365)"/>
<rect x="1053" y="1077" width="549" height="2" fill="url(#g366)"/>
<rect x="1053" y="1079" width="549" height="2" fill="url(#g367)"/>
<rect x="1053" y="1081" width="549" height="2" fill="url(#g368)"/>
<rect x="1053" y="1083" width="549" height="2" fill="url(#g369)"/>
<rect x="1053" y="1085" width="549" height="2" fill="url(#g370)"/>
<rect x="1053" y="1087" width="549" height="2" fill="url(#g371)"/>
<rect x="1053" y="1089" width="549" height="2" fill="url(#g372)"/>
<rect x="1053" y="1091" width="549" height="2" fill="url(#g373)"/>
<rect x="1053" y="1093" width="549" height="2" fill="url(#g374)"/>
<rect x="1053" y="1095" width="549" height="2" fill="url(#g375)"/>
<rect x="1053" y="1097" width="549" height="2" fill="url(#g376)"/>
<rect x="1053" y="1099" width="549" height="2" fill="url(#g377)"/>
<rect x="1053" y="1101" width="549" height="2" fill="url(#g378)"/>
<rect x="1053" y="1103" width="549" height="2" fill="url(#g379)"/>
<rect x="1053" y="1105" width="549" height="2" fill="url(#g380)"/>
<rect x="1053" y="1107" width="549" height="2" fill="url(#g381)"/>
<rect x="1053" y="1109" width="549" height="2" fill="url(#g382)"/>
<rect x="1053" y="1111" width="549" height="2" fill="url(#g383)"/>
<rect x="1053" y="1113" width="549" height="2" fill="url(#g384)"/>
<rect x="1053" y="1115" width="549" height="2" fill="url(#g385)"/>
<rect x="1053" y="1117" width="549" height="2" fill="url(#g386)"/>
<rect x="1053" y="1119" width="549" height="2" fill="url(#g387)"/>
<rect x="1053" y="1121" width="549" height="2" fill="url(#g388)"/>
<rect x="1053" y="1123" width="549" height="2" fill="url(#g389)"/>
<rect x="1053" y="1125" width="549" height="2" fill="url(#g390)"/>
<rect x="1053" y="1127" width="549" height="2" fill="url(#g391)"/>
<rect x="1053" y="1129" width="549" height="2" fill="url(#g392)"/>
<rect x="1053" y="1131" width="549" height="2" fill="url(#g393)"/>
<rect x="1053" y="1133" width="549" height="2" fill="url(#g394)"/>
<rect x="1053" y="1135" width="549" height="2" fill="url(#g395)"/>
<rect x="1053" y="1137" width="549" height="2" fill="url(#g396)"/>
<rect x="1053" y="1139" width="549" height="2" fill="url(#g397)"/>
<rect x="1053" y="1141" width="549" height="2" fill="url(#g398)"/>
<rect x="1053" y="1143" width="549" height="2" fill="url(#g399)"/>
<rect x="1053" y="1145" width="549" height="2" fill="url(#g400)"/>
<rect x="1053" y="1147" width="549" height="2" fill="url(#g401)"/>
<rect x="1053" y="1149" width="549" height="2" fill="url(#g402)"/>
<rect x="1053" y="1151" width="549" height="2" fill="url(#g403)"/>
<rect x="1053" y="1153" width="549" height="2" fill="url(#g404)"/>
<rect x="1053" y="1155" width="549" height="2" fill="url(#g405)"/>
<rect x="1053" y="1157" width="549" height="2" fill="url(#g406)"/>
<rect x="1053" y="1159" width="549" height="2" fill="url(#g407)"/>
<rect x="1053" y="1161" width="549" height="2" fill="url(#g408)"/>
<rect x="1053" y="1163" width="549" height="2" fill="url(#g409)"/>
<rect x="1053" y="1165" width="549" height="2" fill="url(#g410)"/>
<rect x="1053" y="1167" width="549" height="2" fill="url(#g411)"/>
<rect x="1053" y="1169" width="549" height="2" fill="url(#g412)"/>
<rect x="1053" y="1171" width="549" height="2" fill="url(#g413)"/>
<rect x="1053" y="1173" width="549" height="2" fill="url(#g414)"/>
<rect x="1053" y="1175" width="549" height="2" fill="url(#g415)"/>
<rect x="1053" y="1177" width="549" height="2" fill="url(#g416)"/>
<rect x="1053" y="1179" width="549" height="2" fill="url(#g417)"/>
<rect x="1053" y="1181" width="549" height="2" fill="url(#g418)"/>
<rect x="1053" y="1183" width="549" height="2" fill="url(#g419)"/>
<rect x="1053" y="1185" width="549" height="2" fill="url(#g420)"/>
<rect x="1053" y="1187" width="549" height="2" fill="url(#g421)"/>
<rect x="1053" y="1189" width="549" height="2" fill="url(#g422)"/>
<rect x="1053" y="1191" width="549" height="2" fill="url(#g423)"/>
<rect x="1053" y="1193" width="549" height="2" fill="url(#g424)"/>
<rect x="1053" y="1195" width="549" height="2" fill="url(#g425)"/>
<rect x="1053" y="1197" width="549" height="2" fill="url(#g426)"/>
<rect x="1053" y="1199" width="549" height="2" fill="url(#g427)"/>
<rect x="1053" y="1201" width="549" height="2" fill="url(#g428)"/>
<rect x="1053" y="1203" width="549" height="2" fill="url(#g429)"/>
<rect x="1053" y="1205" width="549" height="2" fill="url(#g430)"/>
<rect x="1053" y="1207" width="549" height="2" fill="url(#g431)"/>
<rect x="1053" y="1209" width="549" height="2" fill="url(#g432)"/>
<rect x="1053" y="1211" width="549" height="2" fill="url(#g433)"/>
<rect x="1053" y="1213" width="549" height="2" fill="url(#g434)"/>
<rect x="1053" y="1215" width="549" height="2" fill="url(#g435)"/>
<rect x="1053" y="1217" width="549" height="2" fill="url(#g436)"/>
<rect x="1053" y="1219" width="549" height="2" fill="url(#g437)"/>
<rect x="1053" y="1221" width="549" height="2" fill="url(#g438)"/>
<rect x="1053" y="1223" width="549" height="2" fill="url(#g439)"/>
<rect x="1053" y="1225" width="549" height="2" fill="url(#g440)"/>
<rect x="1053" y="1227" width="549" height="2" fill="url(#g441)"/>
<rect x="1053" y="1229" width="549" height="2" fill="url(#g442)"/>
<rect x="1053" y="1231" width="549" height="2" fill="url(#g443)"/>
<rect x="1053" y="1233" width="549" height="2" fill="url(#g444)"/>
<rect x="1053" y="1235" width="549" height="2" fill="url(#g445)"/>
<rect x="1053" y="1237" width="549" height="2" fill="url(#g446)"/>
<rect x="1053" y="1239" width="549" height="2" fill="url(#g447)"/>
<rect x="1053" y="1241" width="549" height="2" fill="url(#g448)"/>
<rect x="1053" y="1243" width="549" height="2" fill="url(#g449)"/>
<rect x="1053" y="1245" width="549" height="2" fill="url(#g450)"/>
<rect x="1053" y="1247" width="549" height="2" fill="url(#g451)"/>
<rect x="1053" y="1249" width="549" height="2" fill="url(#g452)"/>
<rect x="1053" y="1251" width="549" height="2" fill="url(#g453)"/>
<rect x="1053" y="1253" width="549" height="2" fill="url(#g454)"/>
<rect x="1053" y="1255" width="549" height="2" fill="url(#g455)"/>
<rect x="1053" y="1257" width="549" height="2" fill="url(#g456)"/>
<rect x="1053" y="1259" width="549" height="2" fill="url(#g457)"/>
<rect x="1053" y="1261" width="549" height="2" fill="url(#g458)"/>
<rect x="1053" y="1263" width="549" height="2" fill="url(#g459)"/>
<rect x="1053" y="1265" width="549" height="2" fill="url(#g460)"/>
<rect x="1053" y="1267" width="549" height="2" fill="url(#g461)"/>
<rect x="1053" y="1269" width="549" height="2" fill="url(#g462)"/>
<rect x="1053" y="1271" width="549" height="2" fill="url(#g463)"/>
<rect x="1053" y="1273" width="549" height="2" fill="url(#g464)"/>
<rect x="1053" y="1275" width="549" height="2" fill="url(#g465)"/>
</g>
<text transform="translate(1039.5 1293.6) scale(0.930 1)" font-size="46.4" class="a" text-anchor="end">1</text>
<text transform="translate(1039.5 1151.7) scale(0.930 1)" font-size="46.4" class="a" text-anchor="end">5</text>
<text transform="translate(1039.5 1009.8) scale(0.930 1)" font-size="46.4" class="a" text-anchor="end">9</text>
<text transform="translate(1039.5 867.9) scale(0.930 1)" font-size="46.4" class="a" text-anchor="end">13</text>
<text transform="translate(1053.7 1333) scale(0.930 1)" font-size="46.4" class="a" text-anchor="middle">0.02</text>
<text transform="translate(1327.5 1333) scale(0.930 1)" font-size="46.4" class="a" text-anchor="middle">0.04</text>
<text transform="translate(1601.3 1333) scale(0.930 1)" font-size="46.4" class="a" text-anchor="middle">0.06</text>
<text x="1327.5" y="791.3" font-size="48.3" class="s" text-anchor="middle" textLength="96.5" lengthAdjust="spacingAndGlyphs">Italy</text>
<path d="M1053.7 881.7H1601.3" stroke="#fff" stroke-opacity=".07" stroke-width="1.2"/>
<path d="M1053.7 1276.2H1601.3" stroke="#262626" stroke-width="1"/>
<path d="M1053.7 815V1276.2" stroke="#262626" stroke-width="1"/>
<rect x="1660" y="813.5" width="34" height="461.7" fill="url(#g466)"/>
<rect x="1660" y="813.5" width="34" height="461.7" class="cb"/>
<text transform="translate(1709.8 1145.8) scale(0.930 1)" font-size="42.4" class="a">50</text>
<text transform="translate(1709.8 998.4) scale(0.930 1)" font-size="42.4" class="a">100</text>
<text transform="translate(1709.8 851.1) scale(0.930 1)" font-size="42.4" class="a">150</text>
<path d="M1694 1130.6h-5M1694 983.3h-5M1694 835.9h-5" class="tk"/>
<text transform="translate(964.5 1062.6) rotate(-90) scale(1.360 1)" class="s" font-size="62.5" font-style="italic">τ</text>
<text transform="translate(1315.0 1399.5)" class="s" font-size="61.5" font-style="italic">p</text>
<rect x="144.8" y="1574.5" width="229.2" height="459.3" fill="url(#g467)"/>
<rect x="374" y="1574.5" width="343.8" height="459.3" fill="url(#g468)"/>
<text transform="translate(130.5 2051.2) scale(0.930 1)" font-size="46.4" class="a" text-anchor="end">1</text>
<text transform="translate(130.5 1909.9) scale(0.930 1)" font-size="46.4" class="a" text-anchor="end">5</text>
<text transform="translate(130.5 1768.6) scale(0.930 1)" font-size="46.4" class="a" text-anchor="end">9</text>
<text transform="translate(130.5 1627.2) scale(0.930 1)" font-size="46.4" class="a" text-anchor="end">13</text>
<text transform="translate(144.8 2091.2) scale(0.930 1)" font-size="46.4" class="a" text-anchor="middle">4</text>
<text transform="translate(288 2091.2) scale(0.930 1)" font-size="46.4" class="a" text-anchor="middle">4.5</text>
<text transform="translate(431.3 2091.2) scale(0.930 1)" font-size="46.4" class="a" text-anchor="middle">5</text>
<text transform="translate(574.5 2091.2) scale(0.930 1)" font-size="46.4" class="a" text-anchor="middle">5.5</text>
<text transform="translate(717.8 2091.2) scale(0.930 1)" font-size="46.4" class="a" text-anchor="middle">6</text>
<text x="431.6" y="1551.1" font-size="48.3" class="s" text-anchor="middle" textLength="96.5" lengthAdjust="spacingAndGlyphs">Italy</text>
<path d="M144.8 1640.9H717.8" stroke="#fff" stroke-opacity=".07" stroke-width="1.2"/>
<rect x="747.3" y="1573.5" width="34.2" height="459.8" fill="url(#g469)"/>
<rect x="747.3" y="1573.5" width="34.2" height="459.8" class="cb"/>
<text transform="translate(794.6 1988.2) scale(0.930 1)" font-size="42.4" class="a">5</text>
<text transform="translate(794.6 1888) scale(0.930 1)" font-size="42.4" class="a">10</text>
<text transform="translate(794.6 1787.8) scale(0.930 1)" font-size="42.4" class="a">15</text>
<text transform="translate(794.6 1687.7) scale(0.930 1)" font-size="42.4" class="a">20</text>
<path d="M781.5 1973h-5M781.5 1872.8h-5M781.5 1772.6h-5M781.5 1672.5h-5" class="tk"/>
<text transform="translate(53.6 1838.3) rotate(-90) scale(1.360 1)" class="s" font-size="62.5" font-style="italic">τ</text>
<text transform="translate(64.4 1812.2) rotate(-90) scale(1.310 1)" class="s" font-size="45" font-style="italic">m</text>
<text transform="translate(399.0 2161.7)" class="s" font-size="61.5" font-style="italic">p</text>
<text transform="translate(427.1 2171.4) scale(1.270 1)" class="s" font-size="46" font-style="italic">m</text>
<path d="M405.3 2119.5h21.9" stroke="#231f20" stroke-width="1.7"/>
<text x="607.5" y="2163" font-size="46" class="a">×</text>
<text transform="translate(637.5 2157.8) scale(0.980 1)" class="a" font-size="46.4">10</text>
<text transform="translate(687 2140.2) scale(0.930 1)" font-size="34" class="a">-3</text>
<rect x="1053.7" y="1574.5" width="292.3" height="459.3" fill="url(#g470)"/>
<rect x="1346" y="1574.5" width="255" height="459.3" fill="url(#g471)"/>
<text transform="translate(1039.5 2051.2) scale(0.930 1)" font-size="46.4" class="a" text-anchor="end">1</text>
<text transform="translate(1039.5 1909.9) scale(0.930 1)" font-size="46.4" class="a" text-anchor="end">5</text>
<text transform="translate(1039.5 1768.6) scale(0.930 1)" font-size="46.4" class="a" text-anchor="end">9</text>
<text transform="translate(1039.5 1627.2) scale(0.930 1)" font-size="46.4" class="a" text-anchor="end">13</text>
<text transform="translate(1053.7 2091.2) scale(0.930 1)" font-size="46.4" class="a" text-anchor="middle">0.01</text>
<text transform="translate(1327.5 2091.2) scale(0.930 1)" font-size="46.4" class="a" text-anchor="middle">0.02</text>
<text transform="translate(1601.3 2091.2) scale(0.930 1)" font-size="46.4" class="a" text-anchor="middle">0.03</text>
<text x="1327.5" y="1551.1" font-size="48.3" class="s" text-anchor="middle" textLength="96.5" lengthAdjust="spacingAndGlyphs">Italy</text>
<path d="M1053.7 1640.9H1601" stroke="#fff" stroke-opacity=".07" stroke-width="1.2"/>
<path d="M1053.7 1574.5V2033.8" stroke="#262626" stroke-width="1"/>
<rect x="1660" y="1573.5" width="34" height="459.8" fill="url(#g472)"/>
<rect x="1660" y="1573.5" width="34" height="459.8" class="cb"/>
<text transform="translate(1707.2 1963.8) scale(0.930 1)" font-size="42.4" class="a">10</text>
<text transform="translate(1707.2 1870.9) scale(0.930 1)" font-size="42.4" class="a">20</text>
<text transform="translate(1707.2 1778.1) scale(0.930 1)" font-size="42.4" class="a">30</text>
<text transform="translate(1707.2 1685.2) scale(0.930 1)" font-size="42.4" class="a">40</text>
<text transform="translate(1707.2 1592.4) scale(0.930 1)" font-size="42.4" class="a">50</text>
<path d="M1694 1948.6h-5M1694 1855.8h-5M1694 1762.9h-5M1694 1670.1h-5M1694 1577.2h-5" class="tk"/>
<text transform="translate(964.5 1820.8) rotate(-90) scale(1.360 1)" class="s" font-size="62.5" font-style="italic">τ</text>
<text transform="translate(1315.5 2161.7)" class="s" font-size="61.5" font-style="italic">p</text>
<path d="M1321.8 2119.5h21.9" stroke="#231f20" stroke-width="1.7"/>
</svg>
</body></html>
